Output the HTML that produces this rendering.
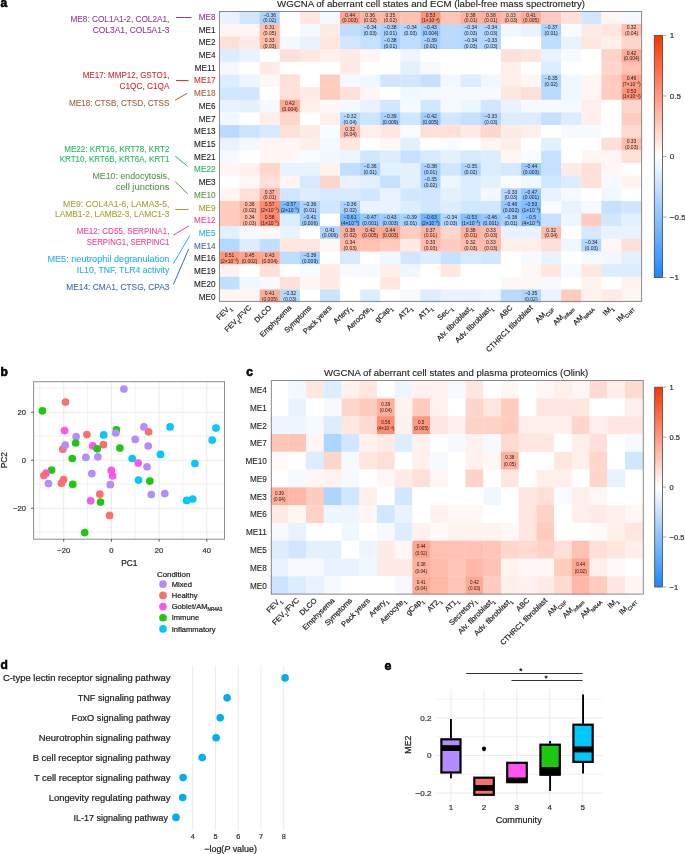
<!DOCTYPE html>
<html><head><meta charset="utf-8"><title>WGCNA figure</title>
<style>
html,body{margin:0;padding:0;background:#fff;}
body{width:685px;height:854px;overflow:hidden;}
svg{display:block;font-family:"Liberation Sans", sans-serif;will-change:transform;}
</style></head>
<body>
<svg width="685" height="854" viewBox="0 0 685 854">
<rect x="0" y="0" width="685" height="854" fill="#fff"/>
<text x="0.40" y="7.10" font-size="12" fill="#000" text-anchor="start" font-weight="bold" stroke="#000" stroke-width="0.6">a</text>
<text x="277.10" y="7.30" font-size="9" fill="#1a1a1a" text-anchor="start" textLength="308" lengthAdjust="spacingAndGlyphs"  stroke="#1a1a1a" stroke-width="0.1">WGCNA of aberrant cell states and ECM (label-free mass spectrometry)</text>
<rect x="219.45" y="11.25" width="20.40" height="12.95" fill="#e8f3ff"/>
<rect x="239.55" y="11.25" width="20.40" height="12.95" fill="#d1e7ff"/>
<rect x="259.65" y="11.25" width="20.40" height="12.95" fill="#acd4ff"/>
<rect x="279.76" y="11.25" width="20.40" height="12.95" fill="#ffffff"/>
<rect x="299.86" y="11.25" width="20.40" height="12.95" fill="#ffe7e0"/>
<rect x="319.96" y="11.25" width="20.40" height="12.95" fill="#f4f9ff"/>
<rect x="340.06" y="11.25" width="20.40" height="12.95" fill="#ffa58f"/>
<rect x="360.17" y="11.25" width="20.40" height="12.95" fill="#ffb6a3"/>
<rect x="380.27" y="11.25" width="20.40" height="12.95" fill="#ffb8a6"/>
<rect x="400.37" y="11.25" width="20.40" height="12.95" fill="#ffc2b2"/>
<rect x="420.47" y="11.25" width="20.40" height="12.95" fill="#ff9378"/>
<rect x="440.58" y="11.25" width="20.40" height="12.95" fill="#ffc6b8"/>
<rect x="460.68" y="11.25" width="20.40" height="12.95" fill="#ffb19e"/>
<rect x="480.78" y="11.25" width="20.40" height="12.95" fill="#ffb19e"/>
<rect x="500.88" y="11.25" width="20.40" height="12.95" fill="#ffbcab"/>
<rect x="520.99" y="11.25" width="20.40" height="12.95" fill="#ffab96"/>
<rect x="541.09" y="11.25" width="20.40" height="12.95" fill="#ffccbf"/>
<rect x="561.19" y="11.25" width="20.40" height="12.95" fill="#ffe0d9"/>
<rect x="581.29" y="11.25" width="20.40" height="12.95" fill="#d1e7ff"/>
<rect x="601.40" y="11.25" width="20.40" height="12.95" fill="#fff5f2"/>
<rect x="621.50" y="11.25" width="20.40" height="12.95" fill="#f4f9ff"/>
<rect x="219.45" y="23.90" width="20.40" height="12.95" fill="#fff5f2"/>
<rect x="239.55" y="23.90" width="20.40" height="12.95" fill="#fff5f2"/>
<rect x="259.65" y="23.90" width="20.40" height="12.95" fill="#ffc0b0"/>
<rect x="279.76" y="23.90" width="20.40" height="12.95" fill="#ffffff"/>
<rect x="299.86" y="23.90" width="20.40" height="12.95" fill="#f4f9ff"/>
<rect x="319.96" y="23.90" width="20.40" height="12.95" fill="#ffebe6"/>
<rect x="340.06" y="23.90" width="20.40" height="12.95" fill="#bfddff"/>
<rect x="360.17" y="23.90" width="20.40" height="12.95" fill="#b1d6ff"/>
<rect x="380.27" y="23.90" width="20.40" height="12.95" fill="#a8d1ff"/>
<rect x="400.37" y="23.90" width="20.40" height="12.95" fill="#b1d6ff"/>
<rect x="420.47" y="23.90" width="20.40" height="12.95" fill="#9ccbff"/>
<rect x="440.58" y="23.90" width="20.40" height="12.95" fill="#badbff"/>
<rect x="460.68" y="23.90" width="20.40" height="12.95" fill="#b1d6ff"/>
<rect x="480.78" y="23.90" width="20.40" height="12.95" fill="#b1d6ff"/>
<rect x="500.88" y="23.90" width="20.40" height="12.95" fill="#eff7ff"/>
<rect x="520.99" y="23.90" width="20.40" height="12.95" fill="#e8f3ff"/>
<rect x="541.09" y="23.90" width="20.40" height="12.95" fill="#aad3ff"/>
<rect x="561.19" y="23.90" width="20.40" height="12.95" fill="#f8fbff"/>
<rect x="581.29" y="23.90" width="20.40" height="12.95" fill="#ffebe6"/>
<rect x="601.40" y="23.90" width="20.40" height="12.95" fill="#ffe7e0"/>
<rect x="621.50" y="23.90" width="20.40" height="12.95" fill="#ffbead"/>
<rect x="219.45" y="36.55" width="20.40" height="12.95" fill="#ffe0d9"/>
<rect x="239.55" y="36.55" width="20.40" height="12.95" fill="#ffebe6"/>
<rect x="259.65" y="36.55" width="20.40" height="12.95" fill="#ffbcab"/>
<rect x="279.76" y="36.55" width="20.40" height="12.95" fill="#f4f9ff"/>
<rect x="299.86" y="36.55" width="20.40" height="12.95" fill="#e8f3ff"/>
<rect x="319.96" y="36.55" width="20.40" height="12.95" fill="#ffe7e0"/>
<rect x="340.06" y="36.55" width="20.40" height="12.95" fill="#d1e7ff"/>
<rect x="360.17" y="36.55" width="20.40" height="12.95" fill="#c6e1ff"/>
<rect x="380.27" y="36.55" width="20.40" height="12.95" fill="#a8d1ff"/>
<rect x="400.37" y="36.55" width="20.40" height="12.95" fill="#bfddff"/>
<rect x="420.47" y="36.55" width="20.40" height="12.95" fill="#a5d0ff"/>
<rect x="440.58" y="36.55" width="20.40" height="12.95" fill="#badbff"/>
<rect x="460.68" y="36.55" width="20.40" height="12.95" fill="#b1d6ff"/>
<rect x="480.78" y="36.55" width="20.40" height="12.95" fill="#b3d7ff"/>
<rect x="500.88" y="36.55" width="20.40" height="12.95" fill="#ffffff"/>
<rect x="520.99" y="36.55" width="20.40" height="12.95" fill="#ffffff"/>
<rect x="541.09" y="36.55" width="20.40" height="12.95" fill="#bfddff"/>
<rect x="561.19" y="36.55" width="20.40" height="12.95" fill="#e8f3ff"/>
<rect x="581.29" y="36.55" width="20.40" height="12.95" fill="#ffe7e0"/>
<rect x="601.40" y="36.55" width="20.40" height="12.95" fill="#ffefeb"/>
<rect x="621.50" y="36.55" width="20.40" height="12.95" fill="#ffd6cc"/>
<rect x="219.45" y="49.19" width="20.40" height="12.95" fill="#dcedff"/>
<rect x="239.55" y="49.19" width="20.40" height="12.95" fill="#e8f3ff"/>
<rect x="259.65" y="49.19" width="20.40" height="12.95" fill="#ffffff"/>
<rect x="279.76" y="49.19" width="20.40" height="12.95" fill="#ffe0d9"/>
<rect x="299.86" y="49.19" width="20.40" height="12.95" fill="#ffe7e0"/>
<rect x="319.96" y="49.19" width="20.40" height="12.95" fill="#ffefeb"/>
<rect x="340.06" y="49.19" width="20.40" height="12.95" fill="#ffebe6"/>
<rect x="360.17" y="49.19" width="20.40" height="12.95" fill="#fff5f2"/>
<rect x="380.27" y="49.19" width="20.40" height="12.95" fill="#ffffff"/>
<rect x="400.37" y="49.19" width="20.40" height="12.95" fill="#edf5ff"/>
<rect x="420.47" y="49.19" width="20.40" height="12.95" fill="#ffffff"/>
<rect x="440.58" y="49.19" width="20.40" height="12.95" fill="#ffffff"/>
<rect x="460.68" y="49.19" width="20.40" height="12.95" fill="#ffffff"/>
<rect x="480.78" y="49.19" width="20.40" height="12.95" fill="#ffffff"/>
<rect x="500.88" y="49.19" width="20.40" height="12.95" fill="#ffe0d9"/>
<rect x="520.99" y="49.19" width="20.40" height="12.95" fill="#ffe4de"/>
<rect x="541.09" y="49.19" width="20.40" height="12.95" fill="#e8f3ff"/>
<rect x="561.19" y="49.19" width="20.40" height="12.95" fill="#f6faff"/>
<rect x="581.29" y="49.19" width="20.40" height="12.95" fill="#ffffff"/>
<rect x="601.40" y="49.19" width="20.40" height="12.95" fill="#ffd2c7"/>
<rect x="621.50" y="49.19" width="20.40" height="12.95" fill="#ffa994"/>
<rect x="219.45" y="61.84" width="20.40" height="12.95" fill="#f4f9ff"/>
<rect x="239.55" y="61.84" width="20.40" height="12.95" fill="#ffffff"/>
<rect x="259.65" y="61.84" width="20.40" height="12.95" fill="#ffebe6"/>
<rect x="279.76" y="61.84" width="20.40" height="12.95" fill="#ffffff"/>
<rect x="299.86" y="61.84" width="20.40" height="12.95" fill="#ffffff"/>
<rect x="319.96" y="61.84" width="20.40" height="12.95" fill="#ffffff"/>
<rect x="340.06" y="61.84" width="20.40" height="12.95" fill="#ffebe6"/>
<rect x="360.17" y="61.84" width="20.40" height="12.95" fill="#ffffff"/>
<rect x="380.27" y="61.84" width="20.40" height="12.95" fill="#ffffff"/>
<rect x="400.37" y="61.84" width="20.40" height="12.95" fill="#e3f1ff"/>
<rect x="420.47" y="61.84" width="20.40" height="12.95" fill="#f6faff"/>
<rect x="440.58" y="61.84" width="20.40" height="12.95" fill="#ffffff"/>
<rect x="460.68" y="61.84" width="20.40" height="12.95" fill="#ffffff"/>
<rect x="480.78" y="61.84" width="20.40" height="12.95" fill="#ffffff"/>
<rect x="500.88" y="61.84" width="20.40" height="12.95" fill="#ffefeb"/>
<rect x="520.99" y="61.84" width="20.40" height="12.95" fill="#ffffff"/>
<rect x="541.09" y="61.84" width="20.40" height="12.95" fill="#dcedff"/>
<rect x="561.19" y="61.84" width="20.40" height="12.95" fill="#ffffff"/>
<rect x="581.29" y="61.84" width="20.40" height="12.95" fill="#ffffff"/>
<rect x="601.40" y="61.84" width="20.40" height="12.95" fill="#ffd6cc"/>
<rect x="621.50" y="61.84" width="20.40" height="12.95" fill="#ffc2b2"/>
<rect x="219.45" y="74.49" width="20.40" height="12.95" fill="#dcedff"/>
<rect x="239.55" y="74.49" width="20.40" height="12.95" fill="#edf5ff"/>
<rect x="259.65" y="74.49" width="20.40" height="12.95" fill="#fff7f5"/>
<rect x="279.76" y="74.49" width="20.40" height="12.95" fill="#ffe0d9"/>
<rect x="299.86" y="74.49" width="20.40" height="12.95" fill="#ffffff"/>
<rect x="319.96" y="74.49" width="20.40" height="12.95" fill="#ffccbf"/>
<rect x="340.06" y="74.49" width="20.40" height="12.95" fill="#f4f9ff"/>
<rect x="360.17" y="74.49" width="20.40" height="12.95" fill="#eff7ff"/>
<rect x="380.27" y="74.49" width="20.40" height="12.95" fill="#d1e7ff"/>
<rect x="400.37" y="74.49" width="20.40" height="12.95" fill="#d1e7ff"/>
<rect x="420.47" y="74.49" width="20.40" height="12.95" fill="#c6e1ff"/>
<rect x="440.58" y="74.49" width="20.40" height="12.95" fill="#f1f8ff"/>
<rect x="460.68" y="74.49" width="20.40" height="12.95" fill="#dcedff"/>
<rect x="480.78" y="74.49" width="20.40" height="12.95" fill="#eff7ff"/>
<rect x="500.88" y="74.49" width="20.40" height="12.95" fill="#ffefeb"/>
<rect x="520.99" y="74.49" width="20.40" height="12.95" fill="#fff5f2"/>
<rect x="541.09" y="74.49" width="20.40" height="12.95" fill="#aed5ff"/>
<rect x="561.19" y="74.49" width="20.40" height="12.95" fill="#eff7ff"/>
<rect x="581.29" y="74.49" width="20.40" height="12.95" fill="#fff5f2"/>
<rect x="601.40" y="74.49" width="20.40" height="12.95" fill="#ffccbf"/>
<rect x="621.50" y="74.49" width="20.40" height="12.95" fill="#ffa18a"/>
<rect x="219.45" y="87.14" width="20.40" height="12.95" fill="#d1e7ff"/>
<rect x="239.55" y="87.14" width="20.40" height="12.95" fill="#d1e7ff"/>
<rect x="259.65" y="87.14" width="20.40" height="12.95" fill="#ffffff"/>
<rect x="279.76" y="87.14" width="20.40" height="12.95" fill="#ffe0d9"/>
<rect x="299.86" y="87.14" width="20.40" height="12.95" fill="#ffebe6"/>
<rect x="319.96" y="87.14" width="20.40" height="12.95" fill="#ffccbf"/>
<rect x="340.06" y="87.14" width="20.40" height="12.95" fill="#ffe0d9"/>
<rect x="360.17" y="87.14" width="20.40" height="12.95" fill="#fff5f2"/>
<rect x="380.27" y="87.14" width="20.40" height="12.95" fill="#ffffff"/>
<rect x="400.37" y="87.14" width="20.40" height="12.95" fill="#eff7ff"/>
<rect x="420.47" y="87.14" width="20.40" height="12.95" fill="#f4f9ff"/>
<rect x="440.58" y="87.14" width="20.40" height="12.95" fill="#f6faff"/>
<rect x="460.68" y="87.14" width="20.40" height="12.95" fill="#f6faff"/>
<rect x="480.78" y="87.14" width="20.40" height="12.95" fill="#f6faff"/>
<rect x="500.88" y="87.14" width="20.40" height="12.95" fill="#ffe7e0"/>
<rect x="520.99" y="87.14" width="20.40" height="12.95" fill="#ffe0d9"/>
<rect x="541.09" y="87.14" width="20.40" height="12.95" fill="#badbff"/>
<rect x="561.19" y="87.14" width="20.40" height="12.95" fill="#eff7ff"/>
<rect x="581.29" y="87.14" width="20.40" height="12.95" fill="#fff5f2"/>
<rect x="601.40" y="87.14" width="20.40" height="12.95" fill="#ffccbf"/>
<rect x="621.50" y="87.14" width="20.40" height="12.95" fill="#ff9378"/>
<rect x="219.45" y="99.78" width="20.40" height="12.95" fill="#e8f3ff"/>
<rect x="239.55" y="99.78" width="20.40" height="12.95" fill="#e3f1ff"/>
<rect x="259.65" y="99.78" width="20.40" height="12.95" fill="#f4f9ff"/>
<rect x="279.76" y="99.78" width="20.40" height="12.95" fill="#ffa994"/>
<rect x="299.86" y="99.78" width="20.40" height="12.95" fill="#ffefeb"/>
<rect x="319.96" y="99.78" width="20.40" height="12.95" fill="#fff9f7"/>
<rect x="340.06" y="99.78" width="20.40" height="12.95" fill="#f4f9ff"/>
<rect x="360.17" y="99.78" width="20.40" height="12.95" fill="#e8f3ff"/>
<rect x="380.27" y="99.78" width="20.40" height="12.95" fill="#d1e7ff"/>
<rect x="400.37" y="99.78" width="20.40" height="12.95" fill="#f6faff"/>
<rect x="420.47" y="99.78" width="20.40" height="12.95" fill="#d1e7ff"/>
<rect x="440.58" y="99.78" width="20.40" height="12.95" fill="#f6faff"/>
<rect x="460.68" y="99.78" width="20.40" height="12.95" fill="#edf5ff"/>
<rect x="480.78" y="99.78" width="20.40" height="12.95" fill="#d1e7ff"/>
<rect x="500.88" y="99.78" width="20.40" height="12.95" fill="#e8f3ff"/>
<rect x="520.99" y="99.78" width="20.40" height="12.95" fill="#f6faff"/>
<rect x="541.09" y="99.78" width="20.40" height="12.95" fill="#f6faff"/>
<rect x="561.19" y="99.78" width="20.40" height="12.95" fill="#f6faff"/>
<rect x="581.29" y="99.78" width="20.40" height="12.95" fill="#ffefeb"/>
<rect x="601.40" y="99.78" width="20.40" height="12.95" fill="#ffffff"/>
<rect x="621.50" y="99.78" width="20.40" height="12.95" fill="#ffd6cc"/>
<rect x="219.45" y="112.43" width="20.40" height="12.95" fill="#f1f8ff"/>
<rect x="239.55" y="112.43" width="20.40" height="12.95" fill="#ffffff"/>
<rect x="259.65" y="112.43" width="20.40" height="12.95" fill="#ffefeb"/>
<rect x="279.76" y="112.43" width="20.40" height="12.95" fill="#ffd6cc"/>
<rect x="299.86" y="112.43" width="20.40" height="12.95" fill="#ffffff"/>
<rect x="319.96" y="112.43" width="20.40" height="12.95" fill="#ffefeb"/>
<rect x="340.06" y="112.43" width="20.40" height="12.95" fill="#b5d9ff"/>
<rect x="360.17" y="112.43" width="20.40" height="12.95" fill="#cce5ff"/>
<rect x="380.27" y="112.43" width="20.40" height="12.95" fill="#a5d0ff"/>
<rect x="400.37" y="112.43" width="20.40" height="12.95" fill="#d1e7ff"/>
<rect x="420.47" y="112.43" width="20.40" height="12.95" fill="#9ecdff"/>
<rect x="440.58" y="112.43" width="20.40" height="12.95" fill="#d1e7ff"/>
<rect x="460.68" y="112.43" width="20.40" height="12.95" fill="#c6e1ff"/>
<rect x="480.78" y="112.43" width="20.40" height="12.95" fill="#b3d7ff"/>
<rect x="500.88" y="112.43" width="20.40" height="12.95" fill="#dcedff"/>
<rect x="520.99" y="112.43" width="20.40" height="12.95" fill="#dcedff"/>
<rect x="541.09" y="112.43" width="20.40" height="12.95" fill="#c6e1ff"/>
<rect x="561.19" y="112.43" width="20.40" height="12.95" fill="#dcedff"/>
<rect x="581.29" y="112.43" width="20.40" height="12.95" fill="#ffefeb"/>
<rect x="601.40" y="112.43" width="20.40" height="12.95" fill="#ffffff"/>
<rect x="621.50" y="112.43" width="20.40" height="12.95" fill="#ffccbf"/>
<rect x="219.45" y="125.08" width="20.40" height="12.95" fill="#badbff"/>
<rect x="239.55" y="125.08" width="20.40" height="12.95" fill="#cce5ff"/>
<rect x="259.65" y="125.08" width="20.40" height="12.95" fill="#d6e9ff"/>
<rect x="279.76" y="125.08" width="20.40" height="12.95" fill="#ffe0d9"/>
<rect x="299.86" y="125.08" width="20.40" height="12.95" fill="#ffebe6"/>
<rect x="319.96" y="125.08" width="20.40" height="12.95" fill="#f8fbff"/>
<rect x="340.06" y="125.08" width="20.40" height="12.95" fill="#ffbead"/>
<rect x="360.17" y="125.08" width="20.40" height="12.95" fill="#ffefeb"/>
<rect x="380.27" y="125.08" width="20.40" height="12.95" fill="#ffe7e0"/>
<rect x="400.37" y="125.08" width="20.40" height="12.95" fill="#f8fbff"/>
<rect x="420.47" y="125.08" width="20.40" height="12.95" fill="#ffe0d9"/>
<rect x="440.58" y="125.08" width="20.40" height="12.95" fill="#ffe0d9"/>
<rect x="460.68" y="125.08" width="20.40" height="12.95" fill="#ffebe6"/>
<rect x="480.78" y="125.08" width="20.40" height="12.95" fill="#ffd6cc"/>
<rect x="500.88" y="125.08" width="20.40" height="12.95" fill="#ffebe6"/>
<rect x="520.99" y="125.08" width="20.40" height="12.95" fill="#ffefeb"/>
<rect x="541.09" y="125.08" width="20.40" height="12.95" fill="#ffffff"/>
<rect x="561.19" y="125.08" width="20.40" height="12.95" fill="#f6faff"/>
<rect x="581.29" y="125.08" width="20.40" height="12.95" fill="#f6faff"/>
<rect x="601.40" y="125.08" width="20.40" height="12.95" fill="#ffffff"/>
<rect x="621.50" y="125.08" width="20.40" height="12.95" fill="#ffdad1"/>
<rect x="219.45" y="137.73" width="20.40" height="12.95" fill="#e8f3ff"/>
<rect x="239.55" y="137.73" width="20.40" height="12.95" fill="#f1f8ff"/>
<rect x="259.65" y="137.73" width="20.40" height="12.95" fill="#fff5f2"/>
<rect x="279.76" y="137.73" width="20.40" height="12.95" fill="#fff5f2"/>
<rect x="299.86" y="137.73" width="20.40" height="12.95" fill="#ffefeb"/>
<rect x="319.96" y="137.73" width="20.40" height="12.95" fill="#f4f9ff"/>
<rect x="340.06" y="137.73" width="20.40" height="12.95" fill="#ffe7e0"/>
<rect x="360.17" y="137.73" width="20.40" height="12.95" fill="#ffffff"/>
<rect x="380.27" y="137.73" width="20.40" height="12.95" fill="#fff7f5"/>
<rect x="400.37" y="137.73" width="20.40" height="12.95" fill="#e3f1ff"/>
<rect x="420.47" y="137.73" width="20.40" height="12.95" fill="#ffffff"/>
<rect x="440.58" y="137.73" width="20.40" height="12.95" fill="#f8fbff"/>
<rect x="460.68" y="137.73" width="20.40" height="12.95" fill="#ffffff"/>
<rect x="480.78" y="137.73" width="20.40" height="12.95" fill="#fff5f2"/>
<rect x="500.88" y="137.73" width="20.40" height="12.95" fill="#ffefeb"/>
<rect x="520.99" y="137.73" width="20.40" height="12.95" fill="#ffffff"/>
<rect x="541.09" y="137.73" width="20.40" height="12.95" fill="#e3f1ff"/>
<rect x="561.19" y="137.73" width="20.40" height="12.95" fill="#ffffff"/>
<rect x="581.29" y="137.73" width="20.40" height="12.95" fill="#ffffff"/>
<rect x="601.40" y="137.73" width="20.40" height="12.95" fill="#ffe0d9"/>
<rect x="621.50" y="137.73" width="20.40" height="12.95" fill="#ffbcab"/>
<rect x="219.45" y="150.38" width="20.40" height="12.95" fill="#f6faff"/>
<rect x="239.55" y="150.38" width="20.40" height="12.95" fill="#ffffff"/>
<rect x="259.65" y="150.38" width="20.40" height="12.95" fill="#fff7f5"/>
<rect x="279.76" y="150.38" width="20.40" height="12.95" fill="#fff7f5"/>
<rect x="299.86" y="150.38" width="20.40" height="12.95" fill="#f8fbff"/>
<rect x="319.96" y="150.38" width="20.40" height="12.95" fill="#f1f8ff"/>
<rect x="340.06" y="150.38" width="20.40" height="12.95" fill="#edf5ff"/>
<rect x="360.17" y="150.38" width="20.40" height="12.95" fill="#d1e7ff"/>
<rect x="380.27" y="150.38" width="20.40" height="12.95" fill="#dcedff"/>
<rect x="400.37" y="150.38" width="20.40" height="12.95" fill="#c6e1ff"/>
<rect x="420.47" y="150.38" width="20.40" height="12.95" fill="#d6e9ff"/>
<rect x="440.58" y="150.38" width="20.40" height="12.95" fill="#e3f1ff"/>
<rect x="460.68" y="150.38" width="20.40" height="12.95" fill="#d6e9ff"/>
<rect x="480.78" y="150.38" width="20.40" height="12.95" fill="#dcedff"/>
<rect x="500.88" y="150.38" width="20.40" height="12.95" fill="#fff5f2"/>
<rect x="520.99" y="150.38" width="20.40" height="12.95" fill="#f8fbff"/>
<rect x="541.09" y="150.38" width="20.40" height="12.95" fill="#c6e1ff"/>
<rect x="561.19" y="150.38" width="20.40" height="12.95" fill="#ffffff"/>
<rect x="581.29" y="150.38" width="20.40" height="12.95" fill="#fff5f2"/>
<rect x="601.40" y="150.38" width="20.40" height="12.95" fill="#fff5f2"/>
<rect x="621.50" y="150.38" width="20.40" height="12.95" fill="#ffe0d9"/>
<rect x="219.45" y="163.02" width="20.40" height="12.95" fill="#fff5f2"/>
<rect x="239.55" y="163.02" width="20.40" height="12.95" fill="#fff1ed"/>
<rect x="259.65" y="163.02" width="20.40" height="12.95" fill="#ffd6cc"/>
<rect x="279.76" y="163.02" width="20.40" height="12.95" fill="#e8f3ff"/>
<rect x="299.86" y="163.02" width="20.40" height="12.95" fill="#e8f3ff"/>
<rect x="319.96" y="163.02" width="20.40" height="12.95" fill="#fff3f0"/>
<rect x="340.06" y="163.02" width="20.40" height="12.95" fill="#c1dfff"/>
<rect x="360.17" y="163.02" width="20.40" height="12.95" fill="#acd4ff"/>
<rect x="380.27" y="163.02" width="20.40" height="12.95" fill="#e3f1ff"/>
<rect x="400.37" y="163.02" width="20.40" height="12.95" fill="#e3f1ff"/>
<rect x="420.47" y="163.02" width="20.40" height="12.95" fill="#a8d1ff"/>
<rect x="440.58" y="163.02" width="20.40" height="12.95" fill="#d1e7ff"/>
<rect x="460.68" y="163.02" width="20.40" height="12.95" fill="#aed5ff"/>
<rect x="480.78" y="163.02" width="20.40" height="12.95" fill="#dcedff"/>
<rect x="500.88" y="163.02" width="20.40" height="12.95" fill="#d6e9ff"/>
<rect x="520.99" y="163.02" width="20.40" height="12.95" fill="#9acaff"/>
<rect x="541.09" y="163.02" width="20.40" height="12.95" fill="#c6e1ff"/>
<rect x="561.19" y="163.02" width="20.40" height="12.95" fill="#ffebe6"/>
<rect x="581.29" y="163.02" width="20.40" height="12.95" fill="#ffe0d9"/>
<rect x="601.40" y="163.02" width="20.40" height="12.95" fill="#fff7f5"/>
<rect x="621.50" y="163.02" width="20.40" height="12.95" fill="#ffffff"/>
<rect x="219.45" y="175.67" width="20.40" height="12.95" fill="#ffffff"/>
<rect x="239.55" y="175.67" width="20.40" height="12.95" fill="#fff7f5"/>
<rect x="259.65" y="175.67" width="20.40" height="12.95" fill="#ffe0d9"/>
<rect x="279.76" y="175.67" width="20.40" height="12.95" fill="#fff5f2"/>
<rect x="299.86" y="175.67" width="20.40" height="12.95" fill="#d6e9ff"/>
<rect x="319.96" y="175.67" width="20.40" height="12.95" fill="#ffd6cc"/>
<rect x="340.06" y="175.67" width="20.40" height="12.95" fill="#e8f3ff"/>
<rect x="360.17" y="175.67" width="20.40" height="12.95" fill="#e3f1ff"/>
<rect x="380.27" y="175.67" width="20.40" height="12.95" fill="#c6e1ff"/>
<rect x="400.37" y="175.67" width="20.40" height="12.95" fill="#e3f1ff"/>
<rect x="420.47" y="175.67" width="20.40" height="12.95" fill="#aed5ff"/>
<rect x="440.58" y="175.67" width="20.40" height="12.95" fill="#edf5ff"/>
<rect x="460.68" y="175.67" width="20.40" height="12.95" fill="#dcedff"/>
<rect x="480.78" y="175.67" width="20.40" height="12.95" fill="#e3f1ff"/>
<rect x="500.88" y="175.67" width="20.40" height="12.95" fill="#f8fbff"/>
<rect x="520.99" y="175.67" width="20.40" height="12.95" fill="#eff7ff"/>
<rect x="541.09" y="175.67" width="20.40" height="12.95" fill="#d1e7ff"/>
<rect x="561.19" y="175.67" width="20.40" height="12.95" fill="#dcedff"/>
<rect x="581.29" y="175.67" width="20.40" height="12.95" fill="#ffe0d9"/>
<rect x="601.40" y="175.67" width="20.40" height="12.95" fill="#f6faff"/>
<rect x="621.50" y="175.67" width="20.40" height="12.95" fill="#fff3f0"/>
<rect x="219.45" y="188.32" width="20.40" height="12.95" fill="#fff5f2"/>
<rect x="239.55" y="188.32" width="20.40" height="12.95" fill="#ffe0d9"/>
<rect x="259.65" y="188.32" width="20.40" height="12.95" fill="#ffb4a1"/>
<rect x="279.76" y="188.32" width="20.40" height="12.95" fill="#d1e7ff"/>
<rect x="299.86" y="188.32" width="20.40" height="12.95" fill="#dcedff"/>
<rect x="319.96" y="188.32" width="20.40" height="12.95" fill="#d6e9ff"/>
<rect x="340.06" y="188.32" width="20.40" height="12.95" fill="#d6e9ff"/>
<rect x="360.17" y="188.32" width="20.40" height="12.95" fill="#d1e7ff"/>
<rect x="380.27" y="188.32" width="20.40" height="12.95" fill="#e8f3ff"/>
<rect x="400.37" y="188.32" width="20.40" height="12.95" fill="#d1e7ff"/>
<rect x="420.47" y="188.32" width="20.40" height="12.95" fill="#d1e7ff"/>
<rect x="440.58" y="188.32" width="20.40" height="12.95" fill="#e3f1ff"/>
<rect x="460.68" y="188.32" width="20.40" height="12.95" fill="#dcedff"/>
<rect x="480.78" y="188.32" width="20.40" height="12.95" fill="#f1f8ff"/>
<rect x="500.88" y="188.32" width="20.40" height="12.95" fill="#b3d7ff"/>
<rect x="520.99" y="188.32" width="20.40" height="12.95" fill="#93c7ff"/>
<rect x="541.09" y="188.32" width="20.40" height="12.95" fill="#e8f3ff"/>
<rect x="561.19" y="188.32" width="20.40" height="12.95" fill="#f6faff"/>
<rect x="581.29" y="188.32" width="20.40" height="12.95" fill="#ffffff"/>
<rect x="601.40" y="188.32" width="20.40" height="12.95" fill="#eff7ff"/>
<rect x="621.50" y="188.32" width="20.40" height="12.95" fill="#ffffff"/>
<rect x="219.45" y="200.97" width="20.40" height="12.95" fill="#ffccbf"/>
<rect x="239.55" y="200.97" width="20.40" height="12.95" fill="#ffb6a3"/>
<rect x="259.65" y="200.97" width="20.40" height="12.95" fill="#ff8b6e"/>
<rect x="279.76" y="200.97" width="20.40" height="12.95" fill="#7cbbff"/>
<rect x="299.86" y="200.97" width="20.40" height="12.95" fill="#acd4ff"/>
<rect x="319.96" y="200.97" width="20.40" height="12.95" fill="#d1e7ff"/>
<rect x="340.06" y="200.97" width="20.40" height="12.95" fill="#acd4ff"/>
<rect x="360.17" y="200.97" width="20.40" height="12.95" fill="#e8f3ff"/>
<rect x="380.27" y="200.97" width="20.40" height="12.95" fill="#e8f3ff"/>
<rect x="400.37" y="200.97" width="20.40" height="12.95" fill="#dcedff"/>
<rect x="420.47" y="200.97" width="20.40" height="12.95" fill="#d1e7ff"/>
<rect x="440.58" y="200.97" width="20.40" height="12.95" fill="#dcedff"/>
<rect x="460.68" y="200.97" width="20.40" height="12.95" fill="#d1e7ff"/>
<rect x="480.78" y="200.97" width="20.40" height="12.95" fill="#d1e7ff"/>
<rect x="500.88" y="200.97" width="20.40" height="12.95" fill="#95c8ff"/>
<rect x="520.99" y="200.97" width="20.40" height="12.95" fill="#85bfff"/>
<rect x="541.09" y="200.97" width="20.40" height="12.95" fill="#f8fbff"/>
<rect x="561.19" y="200.97" width="20.40" height="12.95" fill="#e8f3ff"/>
<rect x="581.29" y="200.97" width="20.40" height="12.95" fill="#f6faff"/>
<rect x="601.40" y="200.97" width="20.40" height="12.95" fill="#c6e1ff"/>
<rect x="621.50" y="200.97" width="20.40" height="12.95" fill="#d1e7ff"/>
<rect x="219.45" y="213.62" width="20.40" height="12.95" fill="#ffccbf"/>
<rect x="239.55" y="213.62" width="20.40" height="12.95" fill="#ffbaa8"/>
<rect x="259.65" y="213.62" width="20.40" height="12.95" fill="#ff896b"/>
<rect x="279.76" y="213.62" width="20.40" height="12.95" fill="#dcedff"/>
<rect x="299.86" y="213.62" width="20.40" height="12.95" fill="#a1ceff"/>
<rect x="319.96" y="213.62" width="20.40" height="12.95" fill="#ffffff"/>
<rect x="340.06" y="213.62" width="20.40" height="12.95" fill="#73b6ff"/>
<rect x="360.17" y="213.62" width="20.40" height="12.95" fill="#93c7ff"/>
<rect x="380.27" y="213.62" width="20.40" height="12.95" fill="#9ccbff"/>
<rect x="400.37" y="213.62" width="20.40" height="12.95" fill="#a5d0ff"/>
<rect x="420.47" y="213.62" width="20.40" height="12.95" fill="#6eb3ff"/>
<rect x="440.58" y="213.62" width="20.40" height="12.95" fill="#b1d6ff"/>
<rect x="460.68" y="213.62" width="20.40" height="12.95" fill="#85bfff"/>
<rect x="480.78" y="213.62" width="20.40" height="12.95" fill="#95c8ff"/>
<rect x="500.88" y="213.62" width="20.40" height="12.95" fill="#a8d1ff"/>
<rect x="520.99" y="213.62" width="20.40" height="12.95" fill="#8cc3ff"/>
<rect x="541.09" y="213.62" width="20.40" height="12.95" fill="#c6e1ff"/>
<rect x="561.19" y="213.62" width="20.40" height="12.95" fill="#edf5ff"/>
<rect x="581.29" y="213.62" width="20.40" height="12.95" fill="#ffccbf"/>
<rect x="601.40" y="213.62" width="20.40" height="12.95" fill="#d1e7ff"/>
<rect x="621.50" y="213.62" width="20.40" height="12.95" fill="#e3f1ff"/>
<rect x="219.45" y="226.26" width="20.40" height="12.95" fill="#e1efff"/>
<rect x="239.55" y="226.26" width="20.40" height="12.95" fill="#f6faff"/>
<rect x="259.65" y="226.26" width="20.40" height="12.95" fill="#fff7f5"/>
<rect x="279.76" y="226.26" width="20.40" height="12.95" fill="#e8f3ff"/>
<rect x="299.86" y="226.26" width="20.40" height="12.95" fill="#ffffff"/>
<rect x="319.96" y="226.26" width="20.40" height="12.95" fill="#aed5ff"/>
<rect x="340.06" y="226.26" width="20.40" height="12.95" fill="#ffb19e"/>
<rect x="360.17" y="226.26" width="20.40" height="12.95" fill="#ffa994"/>
<rect x="380.27" y="226.26" width="20.40" height="12.95" fill="#ffa58f"/>
<rect x="400.37" y="226.26" width="20.40" height="12.95" fill="#ffccbf"/>
<rect x="420.47" y="226.26" width="20.40" height="12.95" fill="#ffb4a1"/>
<rect x="440.58" y="226.26" width="20.40" height="12.95" fill="#ffd6cc"/>
<rect x="460.68" y="226.26" width="20.40" height="12.95" fill="#ffb19e"/>
<rect x="480.78" y="226.26" width="20.40" height="12.95" fill="#ffbcab"/>
<rect x="500.88" y="226.26" width="20.40" height="12.95" fill="#e8f3ff"/>
<rect x="520.99" y="226.26" width="20.40" height="12.95" fill="#e8f3ff"/>
<rect x="541.09" y="226.26" width="20.40" height="12.95" fill="#ffbead"/>
<rect x="561.19" y="226.26" width="20.40" height="12.95" fill="#ffffff"/>
<rect x="581.29" y="226.26" width="20.40" height="12.95" fill="#d6e9ff"/>
<rect x="601.40" y="226.26" width="20.40" height="12.95" fill="#e8f3ff"/>
<rect x="621.50" y="226.26" width="20.40" height="12.95" fill="#e8f3ff"/>
<rect x="219.45" y="238.91" width="20.40" height="12.95" fill="#b5d9ff"/>
<rect x="239.55" y="238.91" width="20.40" height="12.95" fill="#dcedff"/>
<rect x="259.65" y="238.91" width="20.40" height="12.95" fill="#c1dfff"/>
<rect x="279.76" y="238.91" width="20.40" height="12.95" fill="#ffe7e0"/>
<rect x="299.86" y="238.91" width="20.40" height="12.95" fill="#ffe7e0"/>
<rect x="319.96" y="238.91" width="20.40" height="12.95" fill="#fff7f5"/>
<rect x="340.06" y="238.91" width="20.40" height="12.95" fill="#ffbaa8"/>
<rect x="360.17" y="238.91" width="20.40" height="12.95" fill="#ffc2b2"/>
<rect x="380.27" y="238.91" width="20.40" height="12.95" fill="#ffccbf"/>
<rect x="400.37" y="238.91" width="20.40" height="12.95" fill="#ffebe6"/>
<rect x="420.47" y="238.91" width="20.40" height="12.95" fill="#ffbcab"/>
<rect x="440.58" y="238.91" width="20.40" height="12.95" fill="#ffccbf"/>
<rect x="460.68" y="238.91" width="20.40" height="12.95" fill="#ffbead"/>
<rect x="480.78" y="238.91" width="20.40" height="12.95" fill="#ffbcab"/>
<rect x="500.88" y="238.91" width="20.40" height="12.95" fill="#ffefeb"/>
<rect x="520.99" y="238.91" width="20.40" height="12.95" fill="#ffefeb"/>
<rect x="541.09" y="238.91" width="20.40" height="12.95" fill="#ffe0d9"/>
<rect x="561.19" y="238.91" width="20.40" height="12.95" fill="#eff7ff"/>
<rect x="581.29" y="238.91" width="20.40" height="12.95" fill="#b1d6ff"/>
<rect x="601.40" y="238.91" width="20.40" height="12.95" fill="#fff7f5"/>
<rect x="621.50" y="238.91" width="20.40" height="12.95" fill="#ffe0d9"/>
<rect x="219.45" y="251.56" width="20.40" height="12.95" fill="#ff977d"/>
<rect x="239.55" y="251.56" width="20.40" height="12.95" fill="#ffa38c"/>
<rect x="259.65" y="251.56" width="20.40" height="12.95" fill="#ffa791"/>
<rect x="279.76" y="251.56" width="20.40" height="12.95" fill="#bfddff"/>
<rect x="299.86" y="251.56" width="20.40" height="12.95" fill="#a5d0ff"/>
<rect x="319.96" y="251.56" width="20.40" height="12.95" fill="#ffffff"/>
<rect x="340.06" y="251.56" width="20.40" height="12.95" fill="#d6e9ff"/>
<rect x="360.17" y="251.56" width="20.40" height="12.95" fill="#ffffff"/>
<rect x="380.27" y="251.56" width="20.40" height="12.95" fill="#eff7ff"/>
<rect x="400.37" y="251.56" width="20.40" height="12.95" fill="#d1e7ff"/>
<rect x="420.47" y="251.56" width="20.40" height="12.95" fill="#dcedff"/>
<rect x="440.58" y="251.56" width="20.40" height="12.95" fill="#c6e1ff"/>
<rect x="460.68" y="251.56" width="20.40" height="12.95" fill="#d6e9ff"/>
<rect x="480.78" y="251.56" width="20.40" height="12.95" fill="#d1e7ff"/>
<rect x="500.88" y="251.56" width="20.40" height="12.95" fill="#ffffff"/>
<rect x="520.99" y="251.56" width="20.40" height="12.95" fill="#f6faff"/>
<rect x="541.09" y="251.56" width="20.40" height="12.95" fill="#e8f3ff"/>
<rect x="561.19" y="251.56" width="20.40" height="12.95" fill="#ffffff"/>
<rect x="581.29" y="251.56" width="20.40" height="12.95" fill="#f6faff"/>
<rect x="601.40" y="251.56" width="20.40" height="12.95" fill="#f1f8ff"/>
<rect x="621.50" y="251.56" width="20.40" height="12.95" fill="#e3f1ff"/>
<rect x="219.45" y="264.21" width="20.40" height="12.95" fill="#fff3f0"/>
<rect x="239.55" y="264.21" width="20.40" height="12.95" fill="#ffffff"/>
<rect x="259.65" y="264.21" width="20.40" height="12.95" fill="#ffe0d9"/>
<rect x="279.76" y="264.21" width="20.40" height="12.95" fill="#ffffff"/>
<rect x="299.86" y="264.21" width="20.40" height="12.95" fill="#f8fbff"/>
<rect x="319.96" y="264.21" width="20.40" height="12.95" fill="#ffebe6"/>
<rect x="340.06" y="264.21" width="20.40" height="12.95" fill="#f6faff"/>
<rect x="360.17" y="264.21" width="20.40" height="12.95" fill="#f6faff"/>
<rect x="380.27" y="264.21" width="20.40" height="12.95" fill="#ffefeb"/>
<rect x="400.37" y="264.21" width="20.40" height="12.95" fill="#eff7ff"/>
<rect x="420.47" y="264.21" width="20.40" height="12.95" fill="#ffffff"/>
<rect x="440.58" y="264.21" width="20.40" height="12.95" fill="#ffe7e0"/>
<rect x="460.68" y="264.21" width="20.40" height="12.95" fill="#ffffff"/>
<rect x="480.78" y="264.21" width="20.40" height="12.95" fill="#ffffff"/>
<rect x="500.88" y="264.21" width="20.40" height="12.95" fill="#ffffff"/>
<rect x="520.99" y="264.21" width="20.40" height="12.95" fill="#fff7f5"/>
<rect x="541.09" y="264.21" width="20.40" height="12.95" fill="#ffe7e0"/>
<rect x="561.19" y="264.21" width="20.40" height="12.95" fill="#f6faff"/>
<rect x="581.29" y="264.21" width="20.40" height="12.95" fill="#ffe7e0"/>
<rect x="601.40" y="264.21" width="20.40" height="12.95" fill="#dcedff"/>
<rect x="621.50" y="264.21" width="20.40" height="12.95" fill="#dcedff"/>
<rect x="219.45" y="276.85" width="20.40" height="12.95" fill="#c1dfff"/>
<rect x="239.55" y="276.85" width="20.40" height="12.95" fill="#eff7ff"/>
<rect x="259.65" y="276.85" width="20.40" height="12.95" fill="#f6faff"/>
<rect x="279.76" y="276.85" width="20.40" height="12.95" fill="#ffe0d9"/>
<rect x="299.86" y="276.85" width="20.40" height="12.95" fill="#fff5f2"/>
<rect x="319.96" y="276.85" width="20.40" height="12.95" fill="#ffebe6"/>
<rect x="340.06" y="276.85" width="20.40" height="12.95" fill="#ffffff"/>
<rect x="360.17" y="276.85" width="20.40" height="12.95" fill="#ffffff"/>
<rect x="380.27" y="276.85" width="20.40" height="12.95" fill="#ffe7e0"/>
<rect x="400.37" y="276.85" width="20.40" height="12.95" fill="#ffffff"/>
<rect x="420.47" y="276.85" width="20.40" height="12.95" fill="#ffffff"/>
<rect x="440.58" y="276.85" width="20.40" height="12.95" fill="#ffffff"/>
<rect x="460.68" y="276.85" width="20.40" height="12.95" fill="#ffffff"/>
<rect x="480.78" y="276.85" width="20.40" height="12.95" fill="#ffffff"/>
<rect x="500.88" y="276.85" width="20.40" height="12.95" fill="#fff7f5"/>
<rect x="520.99" y="276.85" width="20.40" height="12.95" fill="#fff7f5"/>
<rect x="541.09" y="276.85" width="20.40" height="12.95" fill="#f6faff"/>
<rect x="561.19" y="276.85" width="20.40" height="12.95" fill="#ffffff"/>
<rect x="581.29" y="276.85" width="20.40" height="12.95" fill="#fff3f0"/>
<rect x="601.40" y="276.85" width="20.40" height="12.95" fill="#ffffff"/>
<rect x="621.50" y="276.85" width="20.40" height="12.95" fill="#fff3f0"/>
<rect x="219.45" y="289.50" width="20.40" height="12.95" fill="#fff5f2"/>
<rect x="239.55" y="289.50" width="20.40" height="12.95" fill="#fff5f2"/>
<rect x="259.65" y="289.50" width="20.40" height="12.95" fill="#ffab96"/>
<rect x="279.76" y="289.50" width="20.40" height="12.95" fill="#b5d9ff"/>
<rect x="299.86" y="289.50" width="20.40" height="12.95" fill="#ffffff"/>
<rect x="319.96" y="289.50" width="20.40" height="12.95" fill="#cce5ff"/>
<rect x="340.06" y="289.50" width="20.40" height="12.95" fill="#ffffff"/>
<rect x="360.17" y="289.50" width="20.40" height="12.95" fill="#dcedff"/>
<rect x="380.27" y="289.50" width="20.40" height="12.95" fill="#ffffff"/>
<rect x="400.37" y="289.50" width="20.40" height="12.95" fill="#f6faff"/>
<rect x="420.47" y="289.50" width="20.40" height="12.95" fill="#dcedff"/>
<rect x="440.58" y="289.50" width="20.40" height="12.95" fill="#e8f3ff"/>
<rect x="460.68" y="289.50" width="20.40" height="12.95" fill="#e8f3ff"/>
<rect x="480.78" y="289.50" width="20.40" height="12.95" fill="#edf5ff"/>
<rect x="500.88" y="289.50" width="20.40" height="12.95" fill="#badbff"/>
<rect x="520.99" y="289.50" width="20.40" height="12.95" fill="#aed5ff"/>
<rect x="541.09" y="289.50" width="20.40" height="12.95" fill="#e8f3ff"/>
<rect x="561.19" y="289.50" width="20.40" height="12.95" fill="#ffccbf"/>
<rect x="581.29" y="289.50" width="20.40" height="12.95" fill="#fff1ed"/>
<rect x="601.40" y="289.50" width="20.40" height="12.95" fill="#ffebe6"/>
<rect x="621.50" y="289.50" width="20.40" height="12.95" fill="#fff5f2"/>
<text x="269.71" y="16.67" font-size="5.0" fill="#1a1a1a" text-anchor="middle">−0.36</text>
<text x="269.71" y="22.37" font-size="5.0" fill="#1a1a1a" text-anchor="middle">(0.02)</text>
<text x="350.12" y="16.67" font-size="5.0" fill="#1a1a1a" text-anchor="middle">0.44</text>
<text x="350.12" y="22.37" font-size="5.0" fill="#1a1a1a" text-anchor="middle">(0.003)</text>
<text x="370.22" y="16.67" font-size="5.0" fill="#1a1a1a" text-anchor="middle">0.36</text>
<text x="370.22" y="22.37" font-size="5.0" fill="#1a1a1a" text-anchor="middle">(0.02)</text>
<text x="390.32" y="16.67" font-size="5.0" fill="#1a1a1a" text-anchor="middle">0.35</text>
<text x="390.32" y="22.37" font-size="5.0" fill="#1a1a1a" text-anchor="middle">(0.02)</text>
<text x="430.52" y="16.67" font-size="5.0" fill="#1a1a1a" text-anchor="middle">0.53</text>
<text x="430.52" y="22.37" font-size="5.0" fill="#1a1a1a" text-anchor="middle">(1×10<tspan font-size="3.2" dy="-1.6">−4</tspan><tspan dy="1.6">)</tspan></text>
<text x="470.73" y="16.67" font-size="5.0" fill="#1a1a1a" text-anchor="middle">0.38</text>
<text x="470.73" y="22.37" font-size="5.0" fill="#1a1a1a" text-anchor="middle">(0.01)</text>
<text x="490.83" y="16.67" font-size="5.0" fill="#1a1a1a" text-anchor="middle">0.38</text>
<text x="490.83" y="22.37" font-size="5.0" fill="#1a1a1a" text-anchor="middle">(0.01)</text>
<text x="510.93" y="16.67" font-size="5.0" fill="#1a1a1a" text-anchor="middle">0.33</text>
<text x="510.93" y="22.37" font-size="5.0" fill="#1a1a1a" text-anchor="middle">(0.03)</text>
<text x="531.04" y="16.67" font-size="5.0" fill="#1a1a1a" text-anchor="middle">0.41</text>
<text x="531.04" y="22.37" font-size="5.0" fill="#1a1a1a" text-anchor="middle">(0.005)</text>
<text x="269.71" y="29.32" font-size="5.0" fill="#1a1a1a" text-anchor="middle">0.31</text>
<text x="269.71" y="35.02" font-size="5.0" fill="#1a1a1a" text-anchor="middle">(0.05)</text>
<text x="370.22" y="29.32" font-size="5.0" fill="#1a1a1a" text-anchor="middle">−0.34</text>
<text x="370.22" y="35.02" font-size="5.0" fill="#1a1a1a" text-anchor="middle">(0.03)</text>
<text x="390.32" y="29.32" font-size="5.0" fill="#1a1a1a" text-anchor="middle">−0.38</text>
<text x="390.32" y="35.02" font-size="5.0" fill="#1a1a1a" text-anchor="middle">(0.01)</text>
<text x="410.42" y="29.32" font-size="5.0" fill="#1a1a1a" text-anchor="middle">−0.34</text>
<text x="410.42" y="35.02" font-size="5.0" fill="#1a1a1a" text-anchor="middle">(0.03)</text>
<text x="430.52" y="29.32" font-size="5.0" fill="#1a1a1a" text-anchor="middle">−0.43</text>
<text x="430.52" y="35.02" font-size="5.0" fill="#1a1a1a" text-anchor="middle">(0.004)</text>
<text x="470.73" y="29.32" font-size="5.0" fill="#1a1a1a" text-anchor="middle">−0.34</text>
<text x="470.73" y="35.02" font-size="5.0" fill="#1a1a1a" text-anchor="middle">(0.03)</text>
<text x="490.83" y="29.32" font-size="5.0" fill="#1a1a1a" text-anchor="middle">−0.34</text>
<text x="490.83" y="35.02" font-size="5.0" fill="#1a1a1a" text-anchor="middle">(0.03)</text>
<text x="551.14" y="29.32" font-size="5.0" fill="#1a1a1a" text-anchor="middle">−0.37</text>
<text x="551.14" y="35.02" font-size="5.0" fill="#1a1a1a" text-anchor="middle">(0.01)</text>
<text x="631.55" y="29.32" font-size="5.0" fill="#1a1a1a" text-anchor="middle">0.32</text>
<text x="631.55" y="35.02" font-size="5.0" fill="#1a1a1a" text-anchor="middle">(0.04)</text>
<text x="269.71" y="41.97" font-size="5.0" fill="#1a1a1a" text-anchor="middle">0.33</text>
<text x="269.71" y="47.67" font-size="5.0" fill="#1a1a1a" text-anchor="middle">(0.03)</text>
<text x="390.32" y="41.97" font-size="5.0" fill="#1a1a1a" text-anchor="middle">−0.38</text>
<text x="390.32" y="47.67" font-size="5.0" fill="#1a1a1a" text-anchor="middle">(0.01)</text>
<text x="430.52" y="41.97" font-size="5.0" fill="#1a1a1a" text-anchor="middle">−0.39</text>
<text x="430.52" y="47.67" font-size="5.0" fill="#1a1a1a" text-anchor="middle">(0.01)</text>
<text x="470.73" y="41.97" font-size="5.0" fill="#1a1a1a" text-anchor="middle">−0.34</text>
<text x="470.73" y="47.67" font-size="5.0" fill="#1a1a1a" text-anchor="middle">(0.03)</text>
<text x="490.83" y="41.97" font-size="5.0" fill="#1a1a1a" text-anchor="middle">−0.33</text>
<text x="490.83" y="47.67" font-size="5.0" fill="#1a1a1a" text-anchor="middle">(0.03)</text>
<text x="631.55" y="54.62" font-size="5.0" fill="#1a1a1a" text-anchor="middle">0.42</text>
<text x="631.55" y="60.32" font-size="5.0" fill="#1a1a1a" text-anchor="middle">(0.004)</text>
<text x="551.14" y="79.91" font-size="5.0" fill="#1a1a1a" text-anchor="middle">−0.35</text>
<text x="551.14" y="85.61" font-size="5.0" fill="#1a1a1a" text-anchor="middle">(0.02)</text>
<text x="631.55" y="79.91" font-size="5.0" fill="#1a1a1a" text-anchor="middle">0.46</text>
<text x="631.55" y="85.61" font-size="5.0" fill="#1a1a1a" text-anchor="middle">(7×10<tspan font-size="3.2" dy="-1.6">−4</tspan><tspan dy="1.6">)</tspan></text>
<text x="631.55" y="92.56" font-size="5.0" fill="#1a1a1a" text-anchor="middle">0.53</text>
<text x="631.55" y="98.26" font-size="5.0" fill="#1a1a1a" text-anchor="middle">(1×10<tspan font-size="3.2" dy="-1.6">−4</tspan><tspan dy="1.6">)</tspan></text>
<text x="289.81" y="105.21" font-size="5.0" fill="#1a1a1a" text-anchor="middle">0.42</text>
<text x="289.81" y="110.91" font-size="5.0" fill="#1a1a1a" text-anchor="middle">(0.004)</text>
<text x="350.12" y="117.86" font-size="5.0" fill="#1a1a1a" text-anchor="middle">−0.32</text>
<text x="350.12" y="123.56" font-size="5.0" fill="#1a1a1a" text-anchor="middle">(0.04)</text>
<text x="390.32" y="117.86" font-size="5.0" fill="#1a1a1a" text-anchor="middle">−0.39</text>
<text x="390.32" y="123.56" font-size="5.0" fill="#1a1a1a" text-anchor="middle">(0.009)</text>
<text x="430.52" y="117.86" font-size="5.0" fill="#1a1a1a" text-anchor="middle">−0.42</text>
<text x="430.52" y="123.56" font-size="5.0" fill="#1a1a1a" text-anchor="middle">(0.005)</text>
<text x="490.83" y="117.86" font-size="5.0" fill="#1a1a1a" text-anchor="middle">−0.33</text>
<text x="490.83" y="123.56" font-size="5.0" fill="#1a1a1a" text-anchor="middle">(0.03)</text>
<text x="350.12" y="130.50" font-size="5.0" fill="#1a1a1a" text-anchor="middle">0.32</text>
<text x="350.12" y="136.20" font-size="5.0" fill="#1a1a1a" text-anchor="middle">(0.04)</text>
<text x="631.55" y="143.15" font-size="5.0" fill="#1a1a1a" text-anchor="middle">0.33</text>
<text x="631.55" y="148.85" font-size="5.0" fill="#1a1a1a" text-anchor="middle">(0.03)</text>
<text x="370.22" y="168.45" font-size="5.0" fill="#1a1a1a" text-anchor="middle">−0.36</text>
<text x="370.22" y="174.15" font-size="5.0" fill="#1a1a1a" text-anchor="middle">(0.01)</text>
<text x="430.52" y="168.45" font-size="5.0" fill="#1a1a1a" text-anchor="middle">−0.38</text>
<text x="430.52" y="174.15" font-size="5.0" fill="#1a1a1a" text-anchor="middle">(0.01)</text>
<text x="470.73" y="168.45" font-size="5.0" fill="#1a1a1a" text-anchor="middle">−0.35</text>
<text x="470.73" y="174.15" font-size="5.0" fill="#1a1a1a" text-anchor="middle">(0.02)</text>
<text x="531.04" y="168.45" font-size="5.0" fill="#1a1a1a" text-anchor="middle">−0.44</text>
<text x="531.04" y="174.15" font-size="5.0" fill="#1a1a1a" text-anchor="middle">(0.003)</text>
<text x="430.52" y="181.10" font-size="5.0" fill="#1a1a1a" text-anchor="middle">−0.35</text>
<text x="430.52" y="186.80" font-size="5.0" fill="#1a1a1a" text-anchor="middle">(0.02)</text>
<text x="269.71" y="193.74" font-size="5.0" fill="#1a1a1a" text-anchor="middle">0.37</text>
<text x="269.71" y="199.44" font-size="5.0" fill="#1a1a1a" text-anchor="middle">(0.01)</text>
<text x="510.93" y="193.74" font-size="5.0" fill="#1a1a1a" text-anchor="middle">−0.33</text>
<text x="510.93" y="199.44" font-size="5.0" fill="#1a1a1a" text-anchor="middle">(0.03)</text>
<text x="531.04" y="193.74" font-size="5.0" fill="#1a1a1a" text-anchor="middle">−0.47</text>
<text x="531.04" y="199.44" font-size="5.0" fill="#1a1a1a" text-anchor="middle">(0.001)</text>
<text x="249.60" y="206.39" font-size="5.0" fill="#1a1a1a" text-anchor="middle">0.36</text>
<text x="249.60" y="212.09" font-size="5.0" fill="#1a1a1a" text-anchor="middle">(0.02)</text>
<text x="269.71" y="206.39" font-size="5.0" fill="#1a1a1a" text-anchor="middle">0.57</text>
<text x="269.71" y="212.09" font-size="5.0" fill="#1a1a1a" text-anchor="middle">(2×10<tspan font-size="3.2" dy="-1.6">−5</tspan><tspan dy="1.6">)</tspan></text>
<text x="289.81" y="206.39" font-size="5.0" fill="#1a1a1a" text-anchor="middle">−0.57</text>
<text x="289.81" y="212.09" font-size="5.0" fill="#1a1a1a" text-anchor="middle">(2×10<tspan font-size="3.2" dy="-1.6">−5</tspan><tspan dy="1.6">)</tspan></text>
<text x="309.91" y="206.39" font-size="5.0" fill="#1a1a1a" text-anchor="middle">−0.36</text>
<text x="309.91" y="212.09" font-size="5.0" fill="#1a1a1a" text-anchor="middle">(0.01)</text>
<text x="350.12" y="206.39" font-size="5.0" fill="#1a1a1a" text-anchor="middle">−0.36</text>
<text x="350.12" y="212.09" font-size="5.0" fill="#1a1a1a" text-anchor="middle">(0.02)</text>
<text x="510.93" y="206.39" font-size="5.0" fill="#1a1a1a" text-anchor="middle">−0.46</text>
<text x="510.93" y="212.09" font-size="5.0" fill="#1a1a1a" text-anchor="middle">(0.002)</text>
<text x="531.04" y="206.39" font-size="5.0" fill="#1a1a1a" text-anchor="middle">−0.53</text>
<text x="531.04" y="212.09" font-size="5.0" fill="#1a1a1a" text-anchor="middle">(1×10<tspan font-size="3.2" dy="-1.6">−4</tspan><tspan dy="1.6">)</tspan></text>
<text x="249.60" y="219.04" font-size="5.0" fill="#1a1a1a" text-anchor="middle">0.34</text>
<text x="249.60" y="224.74" font-size="5.0" fill="#1a1a1a" text-anchor="middle">(0.03)</text>
<text x="269.71" y="219.04" font-size="5.0" fill="#1a1a1a" text-anchor="middle">0.58</text>
<text x="269.71" y="224.74" font-size="5.0" fill="#1a1a1a" text-anchor="middle">(1×10<tspan font-size="3.2" dy="-1.6">−5</tspan><tspan dy="1.6">)</tspan></text>
<text x="309.91" y="219.04" font-size="5.0" fill="#1a1a1a" text-anchor="middle">−0.41</text>
<text x="309.91" y="224.74" font-size="5.0" fill="#1a1a1a" text-anchor="middle">(0.006)</text>
<text x="350.12" y="219.04" font-size="5.0" fill="#1a1a1a" text-anchor="middle">−0.61</text>
<text x="350.12" y="224.74" font-size="5.0" fill="#1a1a1a" text-anchor="middle">(4×10<tspan font-size="3.2" dy="-1.6">−6</tspan><tspan dy="1.6">)</tspan></text>
<text x="370.22" y="219.04" font-size="5.0" fill="#1a1a1a" text-anchor="middle">−0.47</text>
<text x="370.22" y="224.74" font-size="5.0" fill="#1a1a1a" text-anchor="middle">(0.001)</text>
<text x="390.32" y="219.04" font-size="5.0" fill="#1a1a1a" text-anchor="middle">−0.43</text>
<text x="390.32" y="224.74" font-size="5.0" fill="#1a1a1a" text-anchor="middle">(0.003)</text>
<text x="410.42" y="219.04" font-size="5.0" fill="#1a1a1a" text-anchor="middle">−0.39</text>
<text x="410.42" y="224.74" font-size="5.0" fill="#1a1a1a" text-anchor="middle">(0.01)</text>
<text x="430.52" y="219.04" font-size="5.0" fill="#1a1a1a" text-anchor="middle">−0.63</text>
<text x="430.52" y="224.74" font-size="5.0" fill="#1a1a1a" text-anchor="middle">(2×10<tspan font-size="3.2" dy="-1.6">−6</tspan><tspan dy="1.6">)</tspan></text>
<text x="450.63" y="219.04" font-size="5.0" fill="#1a1a1a" text-anchor="middle">−0.34</text>
<text x="450.63" y="224.74" font-size="5.0" fill="#1a1a1a" text-anchor="middle">(0.03)</text>
<text x="470.73" y="219.04" font-size="5.0" fill="#1a1a1a" text-anchor="middle">−0.53</text>
<text x="470.73" y="224.74" font-size="5.0" fill="#1a1a1a" text-anchor="middle">(1×10<tspan font-size="3.2" dy="-1.6">−4</tspan><tspan dy="1.6">)</tspan></text>
<text x="490.83" y="219.04" font-size="5.0" fill="#1a1a1a" text-anchor="middle">−0.46</text>
<text x="490.83" y="224.74" font-size="5.0" fill="#1a1a1a" text-anchor="middle">(0.001)</text>
<text x="510.93" y="219.04" font-size="5.0" fill="#1a1a1a" text-anchor="middle">−0.38</text>
<text x="510.93" y="224.74" font-size="5.0" fill="#1a1a1a" text-anchor="middle">(0.01)</text>
<text x="531.04" y="219.04" font-size="5.0" fill="#1a1a1a" text-anchor="middle">−0.5</text>
<text x="531.04" y="224.74" font-size="5.0" fill="#1a1a1a" text-anchor="middle">(4×10<tspan font-size="3.2" dy="-1.6">−4</tspan><tspan dy="1.6">)</tspan></text>
<text x="330.01" y="231.69" font-size="5.0" fill="#1a1a1a" text-anchor="middle">0.41</text>
<text x="330.01" y="237.39" font-size="5.0" fill="#1a1a1a" text-anchor="middle">(0.006)</text>
<text x="350.12" y="231.69" font-size="5.0" fill="#1a1a1a" text-anchor="middle">0.38</text>
<text x="350.12" y="237.39" font-size="5.0" fill="#1a1a1a" text-anchor="middle">(0.02)</text>
<text x="370.22" y="231.69" font-size="5.0" fill="#1a1a1a" text-anchor="middle">0.42</text>
<text x="370.22" y="237.39" font-size="5.0" fill="#1a1a1a" text-anchor="middle">(0.005)</text>
<text x="390.32" y="231.69" font-size="5.0" fill="#1a1a1a" text-anchor="middle">0.44</text>
<text x="390.32" y="237.39" font-size="5.0" fill="#1a1a1a" text-anchor="middle">(0.003)</text>
<text x="430.52" y="231.69" font-size="5.0" fill="#1a1a1a" text-anchor="middle">0.37</text>
<text x="430.52" y="237.39" font-size="5.0" fill="#1a1a1a" text-anchor="middle">(0.01)</text>
<text x="470.73" y="231.69" font-size="5.0" fill="#1a1a1a" text-anchor="middle">0.38</text>
<text x="470.73" y="237.39" font-size="5.0" fill="#1a1a1a" text-anchor="middle">(0.01)</text>
<text x="490.83" y="231.69" font-size="5.0" fill="#1a1a1a" text-anchor="middle">0.33</text>
<text x="490.83" y="237.39" font-size="5.0" fill="#1a1a1a" text-anchor="middle">(0.03)</text>
<text x="551.14" y="231.69" font-size="5.0" fill="#1a1a1a" text-anchor="middle">0.32</text>
<text x="551.14" y="237.39" font-size="5.0" fill="#1a1a1a" text-anchor="middle">(0.04)</text>
<text x="350.12" y="244.33" font-size="5.0" fill="#1a1a1a" text-anchor="middle">0.34</text>
<text x="350.12" y="250.03" font-size="5.0" fill="#1a1a1a" text-anchor="middle">(0.03)</text>
<text x="430.52" y="244.33" font-size="5.0" fill="#1a1a1a" text-anchor="middle">0.33</text>
<text x="430.52" y="250.03" font-size="5.0" fill="#1a1a1a" text-anchor="middle">(0.03)</text>
<text x="470.73" y="244.33" font-size="5.0" fill="#1a1a1a" text-anchor="middle">0.32</text>
<text x="470.73" y="250.03" font-size="5.0" fill="#1a1a1a" text-anchor="middle">(0.03)</text>
<text x="490.83" y="244.33" font-size="5.0" fill="#1a1a1a" text-anchor="middle">0.33</text>
<text x="490.83" y="250.03" font-size="5.0" fill="#1a1a1a" text-anchor="middle">(0.03)</text>
<text x="591.34" y="244.33" font-size="5.0" fill="#1a1a1a" text-anchor="middle">−0.34</text>
<text x="591.34" y="250.03" font-size="5.0" fill="#1a1a1a" text-anchor="middle">(0.03)</text>
<text x="229.50" y="256.98" font-size="5.0" fill="#1a1a1a" text-anchor="middle">0.51</text>
<text x="229.50" y="262.68" font-size="5.0" fill="#1a1a1a" text-anchor="middle">(2×10<tspan font-size="3.2" dy="-1.6">−4</tspan><tspan dy="1.6">)</tspan></text>
<text x="249.60" y="256.98" font-size="5.0" fill="#1a1a1a" text-anchor="middle">0.45</text>
<text x="249.60" y="262.68" font-size="5.0" fill="#1a1a1a" text-anchor="middle">(0.002)</text>
<text x="269.71" y="256.98" font-size="5.0" fill="#1a1a1a" text-anchor="middle">0.43</text>
<text x="269.71" y="262.68" font-size="5.0" fill="#1a1a1a" text-anchor="middle">(0.004)</text>
<text x="309.91" y="256.98" font-size="5.0" fill="#1a1a1a" text-anchor="middle">−0.39</text>
<text x="309.91" y="262.68" font-size="5.0" fill="#1a1a1a" text-anchor="middle">(0.009)</text>
<text x="269.71" y="294.93" font-size="5.0" fill="#1a1a1a" text-anchor="middle">0.41</text>
<text x="269.71" y="300.63" font-size="5.0" fill="#1a1a1a" text-anchor="middle">(0.005)</text>
<text x="289.81" y="294.93" font-size="5.0" fill="#1a1a1a" text-anchor="middle">−0.32</text>
<text x="289.81" y="300.63" font-size="5.0" fill="#1a1a1a" text-anchor="middle">(0.03)</text>
<text x="531.04" y="294.93" font-size="5.0" fill="#1a1a1a" text-anchor="middle">−0.35</text>
<text x="531.04" y="300.63" font-size="5.0" fill="#1a1a1a" text-anchor="middle">(0.02)</text>
<rect x="219.45" y="11.50" width="422.15" height="289.90" fill="none" stroke="#8a8a8a" stroke-width="1"/>
<text x="215.50" y="19.90" font-size="8.8" fill="#8e3a93" text-anchor="end" textLength="16.83" lengthAdjust="spacingAndGlyphs"  stroke="#8e3a93" stroke-width="0.1">ME8</text>
<text x="215.50" y="32.61" font-size="8.8" fill="#1a1a1a" text-anchor="end" textLength="16.83" lengthAdjust="spacingAndGlyphs"  stroke="#1a1a1a" stroke-width="0.1">ME1</text>
<text x="215.50" y="45.32" font-size="8.8" fill="#1a1a1a" text-anchor="end" textLength="16.83" lengthAdjust="spacingAndGlyphs"  stroke="#1a1a1a" stroke-width="0.1">ME2</text>
<text x="215.50" y="58.03" font-size="8.8" fill="#1a1a1a" text-anchor="end" textLength="16.83" lengthAdjust="spacingAndGlyphs"  stroke="#1a1a1a" stroke-width="0.1">ME4</text>
<text x="215.50" y="70.74" font-size="8.8" fill="#1a1a1a" text-anchor="end" textLength="20.77" lengthAdjust="spacingAndGlyphs"  stroke="#1a1a1a" stroke-width="0.1">ME11</text>
<text x="215.50" y="83.45" font-size="8.8" fill="#d8262e" text-anchor="end" textLength="21.38" lengthAdjust="spacingAndGlyphs"  stroke="#d8262e" stroke-width="0.1">ME17</text>
<text x="215.50" y="96.16" font-size="8.8" fill="#a0603a" text-anchor="end" textLength="21.38" lengthAdjust="spacingAndGlyphs"  stroke="#a0603a" stroke-width="0.1">ME18</text>
<text x="215.50" y="108.87" font-size="8.8" fill="#1a1a1a" text-anchor="end" textLength="16.83" lengthAdjust="spacingAndGlyphs"  stroke="#1a1a1a" stroke-width="0.1">ME6</text>
<text x="215.50" y="121.58" font-size="8.8" fill="#1a1a1a" text-anchor="end" textLength="16.83" lengthAdjust="spacingAndGlyphs"  stroke="#1a1a1a" stroke-width="0.1">ME7</text>
<text x="215.50" y="134.29" font-size="8.8" fill="#1a1a1a" text-anchor="end" textLength="21.38" lengthAdjust="spacingAndGlyphs"  stroke="#1a1a1a" stroke-width="0.1">ME13</text>
<text x="215.50" y="147.00" font-size="8.8" fill="#1a1a1a" text-anchor="end" textLength="21.38" lengthAdjust="spacingAndGlyphs"  stroke="#1a1a1a" stroke-width="0.1">ME15</text>
<text x="215.50" y="159.71" font-size="8.8" fill="#1a1a1a" text-anchor="end" textLength="21.38" lengthAdjust="spacingAndGlyphs"  stroke="#1a1a1a" stroke-width="0.1">ME21</text>
<text x="215.50" y="172.42" font-size="8.8" fill="#22b862" text-anchor="end" textLength="21.38" lengthAdjust="spacingAndGlyphs"  stroke="#22b862" stroke-width="0.1">ME22</text>
<text x="215.50" y="185.13" font-size="8.8" fill="#1a1a1a" text-anchor="end" textLength="16.83" lengthAdjust="spacingAndGlyphs"  stroke="#1a1a1a" stroke-width="0.1">ME3</text>
<text x="215.50" y="197.84" font-size="8.8" fill="#55994a" text-anchor="end" textLength="21.38" lengthAdjust="spacingAndGlyphs"  stroke="#55994a" stroke-width="0.1">ME10</text>
<text x="215.50" y="210.55" font-size="8.8" fill="#a8a032" text-anchor="end" textLength="16.83" lengthAdjust="spacingAndGlyphs"  stroke="#a8a032" stroke-width="0.1">ME9</text>
<text x="215.50" y="223.26" font-size="8.8" fill="#ef3f98" text-anchor="end" textLength="21.38" lengthAdjust="spacingAndGlyphs"  stroke="#ef3f98" stroke-width="0.1">ME12</text>
<text x="215.50" y="235.97" font-size="8.8" fill="#22afea" text-anchor="end" textLength="16.83" lengthAdjust="spacingAndGlyphs"  stroke="#22afea" stroke-width="0.1">ME5</text>
<text x="215.50" y="248.68" font-size="8.8" fill="#3f6aad" text-anchor="end" textLength="21.38" lengthAdjust="spacingAndGlyphs"  stroke="#3f6aad" stroke-width="0.1">ME14</text>
<text x="215.50" y="261.39" font-size="8.8" fill="#1a1a1a" text-anchor="end" textLength="21.38" lengthAdjust="spacingAndGlyphs"  stroke="#1a1a1a" stroke-width="0.1">ME16</text>
<text x="215.50" y="274.10" font-size="8.8" fill="#1a1a1a" text-anchor="end" textLength="21.38" lengthAdjust="spacingAndGlyphs"  stroke="#1a1a1a" stroke-width="0.1">ME19</text>
<text x="215.50" y="286.81" font-size="8.8" fill="#1a1a1a" text-anchor="end" textLength="21.38" lengthAdjust="spacingAndGlyphs"  stroke="#1a1a1a" stroke-width="0.1">ME20</text>
<text x="215.50" y="299.52" font-size="8.8" fill="#1a1a1a" text-anchor="end" textLength="16.83" lengthAdjust="spacingAndGlyphs"  stroke="#1a1a1a" stroke-width="0.1">ME0</text>
<text transform="translate(231.60,308.30) rotate(-45)" font-size="7.45" fill="#1a1a1a" stroke="#1a1a1a" stroke-width="0.18" text-anchor="end">FEV<tspan font-size="5.07" dy="2.53">1</tspan></text>
<text transform="translate(251.70,308.30) rotate(-45)" font-size="7.45" fill="#1a1a1a" stroke="#1a1a1a" stroke-width="0.18" text-anchor="end">FEV<tspan font-size="5.07" dy="2.53">1</tspan><tspan dy="-2.53">/FVC</tspan></text>
<text transform="translate(271.81,308.30) rotate(-45)" font-size="7.45" fill="#1a1a1a" stroke="#1a1a1a" stroke-width="0.18" text-anchor="end">DLCO</text>
<text transform="translate(291.91,308.30) rotate(-45)" font-size="7.45" fill="#1a1a1a" stroke="#1a1a1a" stroke-width="0.18" text-anchor="end">Emphysema</text>
<text transform="translate(312.01,308.30) rotate(-45)" font-size="7.45" fill="#1a1a1a" stroke="#1a1a1a" stroke-width="0.18" text-anchor="end">Symptoms</text>
<text transform="translate(332.11,308.30) rotate(-45)" font-size="7.45" fill="#1a1a1a" stroke="#1a1a1a" stroke-width="0.18" text-anchor="end">Pack years</text>
<text transform="translate(352.22,308.30) rotate(-45)" font-size="7.45" fill="#1a1a1a" stroke="#1a1a1a" stroke-width="0.18" text-anchor="end">Artery<tspan font-size="5.07" dy="2.53">1</tspan></text>
<text transform="translate(372.32,308.30) rotate(-45)" font-size="7.45" fill="#1a1a1a" stroke="#1a1a1a" stroke-width="0.18" text-anchor="end">Aerocyte<tspan font-size="5.07" dy="2.53">1</tspan></text>
<text transform="translate(392.42,308.30) rotate(-45)" font-size="7.45" fill="#1a1a1a" stroke="#1a1a1a" stroke-width="0.18" text-anchor="end">gCap<tspan font-size="5.07" dy="2.53">1</tspan></text>
<text transform="translate(412.52,308.30) rotate(-45)" font-size="7.45" fill="#1a1a1a" stroke="#1a1a1a" stroke-width="0.18" text-anchor="end">AT2<tspan font-size="5.07" dy="2.53">1</tspan></text>
<text transform="translate(432.62,308.30) rotate(-45)" font-size="7.45" fill="#1a1a1a" stroke="#1a1a1a" stroke-width="0.18" text-anchor="end">AT1<tspan font-size="5.07" dy="2.53">1</tspan></text>
<text transform="translate(452.73,308.30) rotate(-45)" font-size="7.45" fill="#1a1a1a" stroke="#1a1a1a" stroke-width="0.18" text-anchor="end">Sec.<tspan font-size="5.07" dy="2.53">1</tspan></text>
<text transform="translate(472.83,308.30) rotate(-45)" font-size="7.45" fill="#1a1a1a" stroke="#1a1a1a" stroke-width="0.18" text-anchor="end">Alv. fibroblast<tspan font-size="5.07" dy="2.53">1</tspan></text>
<text transform="translate(492.93,308.30) rotate(-45)" font-size="7.45" fill="#1a1a1a" stroke="#1a1a1a" stroke-width="0.18" text-anchor="end">Adv. fibroblast<tspan font-size="5.07" dy="2.53">1</tspan></text>
<text transform="translate(513.03,308.30) rotate(-45)" font-size="7.45" fill="#1a1a1a" stroke="#1a1a1a" stroke-width="0.18" text-anchor="end">ABC</text>
<text transform="translate(533.14,308.30) rotate(-45)" font-size="7.45" fill="#1a1a1a" stroke="#1a1a1a" stroke-width="0.18" text-anchor="end">CTHRC1 fibroblast</text>
<text transform="translate(553.24,308.30) rotate(-45)" font-size="7.45" fill="#1a1a1a" stroke="#1a1a1a" stroke-width="0.18" text-anchor="end">AM<tspan font-size="5.07" dy="2.53">CSF</tspan></text>
<text transform="translate(573.34,308.30) rotate(-45)" font-size="7.45" fill="#1a1a1a" stroke="#1a1a1a" stroke-width="0.18" text-anchor="end">AM<tspan font-size="5.07" dy="2.53">inflam</tspan></text>
<text transform="translate(593.44,308.30) rotate(-45)" font-size="7.45" fill="#1a1a1a" stroke="#1a1a1a" stroke-width="0.18" text-anchor="end">AM<tspan font-size="5.07" dy="2.53">NR4A</tspan></text>
<text transform="translate(613.55,308.30) rotate(-45)" font-size="7.45" fill="#1a1a1a" stroke="#1a1a1a" stroke-width="0.18" text-anchor="end">IM<tspan font-size="5.07" dy="2.53">1</tspan></text>
<text transform="translate(633.65,308.30) rotate(-45)" font-size="7.45" fill="#1a1a1a" stroke="#1a1a1a" stroke-width="0.18" text-anchor="end">IM<tspan font-size="5.07" dy="2.53">CHIT</tspan></text>
<defs><linearGradient id="cb35" x1="0" y1="0" x2="0" y2="1"><stop offset="0" stop-color="#ff3300"/><stop offset="0.5" stop-color="#ffffff"/><stop offset="1" stop-color="#1987ff"/></linearGradient></defs>
<rect x="654.3" y="35.4" width="8.300000000000068" height="242.20000000000002" fill="url(#cb35)" stroke="#444" stroke-width="0.8"/>
<line x1="662.6" y1="35.40" x2="666.6" y2="35.40" stroke="#999" stroke-width="0.8"/>
<text x="669.80" y="38.28" font-size="8" fill="#333" text-anchor="start"  stroke="#333" stroke-width="0.22">1</text>
<line x1="662.6" y1="95.95" x2="666.6" y2="95.95" stroke="#999" stroke-width="0.8"/>
<text x="669.80" y="98.83" font-size="8" fill="#333" text-anchor="start"  stroke="#333" stroke-width="0.22">0.5</text>
<line x1="662.6" y1="156.50" x2="666.6" y2="156.50" stroke="#999" stroke-width="0.8"/>
<text x="669.80" y="159.38" font-size="8" fill="#333" text-anchor="start"  stroke="#333" stroke-width="0.22">0</text>
<line x1="662.6" y1="217.05" x2="666.6" y2="217.05" stroke="#999" stroke-width="0.8"/>
<text x="669.80" y="219.93" font-size="8" fill="#333" text-anchor="start"  stroke="#333" stroke-width="0.22">−0.5</text>
<line x1="662.6" y1="277.60" x2="666.6" y2="277.60" stroke="#999" stroke-width="0.8"/>
<text x="669.80" y="280.48" font-size="8" fill="#333" text-anchor="start"  stroke="#333" stroke-width="0.22">−1</text>
<text x="70.50" y="21.50" font-size="8.4" fill="#8e3a93" text-anchor="start" textLength="98.9" lengthAdjust="spacingAndGlyphs"  stroke="#8e3a93" stroke-width="0.08">ME8: COL1A1-2, COL2A1,</text>
<text x="92.70" y="32.90" font-size="8.4" fill="#8e3a93" text-anchor="start" textLength="76.7" lengthAdjust="spacingAndGlyphs"  stroke="#8e3a93" stroke-width="0.08">COL3A1, COL5A1-3</text>
<text x="82.70" y="78.10" font-size="8.4" fill="#d8262e" text-anchor="start" textLength="86.7" lengthAdjust="spacingAndGlyphs"  stroke="#d8262e" stroke-width="0.08">ME17: MMP12, GSTO1,</text>
<text x="119.60" y="88.80" font-size="8.4" fill="#d8262e" text-anchor="start" textLength="49.8" lengthAdjust="spacingAndGlyphs"  stroke="#d8262e" stroke-width="0.08">C1QC, C1QA</text>
<text x="68.90" y="105.50" font-size="8.4" fill="#a0603a" text-anchor="start" textLength="100.5" lengthAdjust="spacingAndGlyphs"  stroke="#a0603a" stroke-width="0.08">ME18: CTSB, CTSD, CTSS</text>
<text x="64.20" y="151.60" font-size="8.4" fill="#22b862" text-anchor="start" textLength="105.2" lengthAdjust="spacingAndGlyphs"  stroke="#22b862" stroke-width="0.08">ME22: KRT16, KRT78, KRT2</text>
<text x="59.70" y="162.40" font-size="8.4" fill="#22b862" text-anchor="start" textLength="109.7" lengthAdjust="spacingAndGlyphs"  stroke="#22b862" stroke-width="0.08">KRT10, KRT6B, KRT6A, KRT1</text>
<text x="92.50" y="178.70" font-size="8.4" fill="#55994a" text-anchor="start" textLength="76.9" lengthAdjust="spacingAndGlyphs"  stroke="#55994a" stroke-width="0.08">ME10: endocytosis,</text>
<text x="115.70" y="189.70" font-size="8.4" fill="#55994a" text-anchor="start" textLength="53.7" lengthAdjust="spacingAndGlyphs"  stroke="#55994a" stroke-width="0.08">cell junctions</text>
<text x="63.10" y="207.00" font-size="8.4" fill="#a8a032" text-anchor="start" textLength="106.3" lengthAdjust="spacingAndGlyphs"  stroke="#a8a032" stroke-width="0.08">ME9: COL4A1-6, LAMA3-5,</text>
<text x="55.00" y="217.40" font-size="8.4" fill="#a8a032" text-anchor="start" textLength="114.4" lengthAdjust="spacingAndGlyphs"  stroke="#a8a032" stroke-width="0.08">LAMB1-2, LAMB2-3, LAMC1-3</text>
<text x="76.80" y="233.70" font-size="8.4" fill="#ef3f98" text-anchor="start" textLength="92.6" lengthAdjust="spacingAndGlyphs"  stroke="#ef3f98" stroke-width="0.08">ME12: CD55, SERPINA1,</text>
<text x="86.80" y="245.00" font-size="8.4" fill="#ef3f98" text-anchor="start" textLength="82.6" lengthAdjust="spacingAndGlyphs"  stroke="#ef3f98" stroke-width="0.08">SERPING1, SERPINC1</text>
<text x="47.40" y="262.10" font-size="8.4" fill="#22afea" text-anchor="start" textLength="122.0" lengthAdjust="spacingAndGlyphs"  stroke="#22afea" stroke-width="0.08">ME5: neutrophil degranulation</text>
<text x="76.80" y="273.10" font-size="8.4" fill="#22afea" text-anchor="start" textLength="92.6" lengthAdjust="spacingAndGlyphs"  stroke="#22afea" stroke-width="0.08">IL10, TNF, TLR4 activity</text>
<text x="66.30" y="290.20" font-size="8.4" fill="#3f6aad" text-anchor="start" textLength="103.1" lengthAdjust="spacingAndGlyphs"  stroke="#3f6aad" stroke-width="0.08">ME14: CMA1, CTSG, CPA3</text>
<line x1="176" y1="17.5" x2="191.5" y2="17.5" stroke="#8e3a93" stroke-width="1"/>
<line x1="176" y1="80.6" x2="188.5" y2="80.6" stroke="#d8262e" stroke-width="1"/>
<line x1="175.2" y1="100.2" x2="187.3" y2="93.2" stroke="#a0603a" stroke-width="1"/>
<line x1="175.3" y1="156.3" x2="187.7" y2="166.3" stroke="#22b862" stroke-width="1"/>
<line x1="175.3" y1="181.5" x2="187.7" y2="193.9" stroke="#55994a" stroke-width="1"/>
<line x1="175.3" y1="209.5" x2="188.7" y2="209.5" stroke="#a8a032" stroke-width="1"/>
<line x1="173.5" y1="235.0" x2="188.7" y2="226.0" stroke="#ef3f98" stroke-width="1"/>
<line x1="173.5" y1="263.3" x2="189.8" y2="235.7" stroke="#22afea" stroke-width="1"/>
<line x1="173.5" y1="284.3" x2="188.7" y2="248.9" stroke="#3f6aad" stroke-width="1"/>
<text x="0.60" y="375.50" font-size="12" fill="#000" text-anchor="start" font-weight="bold" stroke="#000" stroke-width="0.6">b</text>
<rect x="33.6" y="381.7" width="190.9" height="157.50000000000006" fill="#fff"/>
<line x1="39.85" y1="381.7" x2="39.85" y2="539.2" stroke="#ebebeb" stroke-width="0.6"/>
<line x1="63.70" y1="381.7" x2="63.70" y2="539.2" stroke="#ebebeb" stroke-width="1.0"/>
<line x1="87.55" y1="381.7" x2="87.55" y2="539.2" stroke="#ebebeb" stroke-width="0.6"/>
<line x1="111.40" y1="381.7" x2="111.40" y2="539.2" stroke="#ebebeb" stroke-width="1.0"/>
<line x1="135.25" y1="381.7" x2="135.25" y2="539.2" stroke="#ebebeb" stroke-width="0.6"/>
<line x1="159.10" y1="381.7" x2="159.10" y2="539.2" stroke="#ebebeb" stroke-width="1.0"/>
<line x1="182.95" y1="381.7" x2="182.95" y2="539.2" stroke="#ebebeb" stroke-width="0.6"/>
<line x1="206.80" y1="381.7" x2="206.80" y2="539.2" stroke="#ebebeb" stroke-width="1.0"/>
<line x1="33.6" y1="532.20" x2="224.5" y2="532.20" stroke="#ebebeb" stroke-width="0.6"/>
<line x1="33.6" y1="508.20" x2="224.5" y2="508.20" stroke="#ebebeb" stroke-width="1.0"/>
<line x1="33.6" y1="484.20" x2="224.5" y2="484.20" stroke="#ebebeb" stroke-width="0.6"/>
<line x1="33.6" y1="460.20" x2="224.5" y2="460.20" stroke="#ebebeb" stroke-width="1.0"/>
<line x1="33.6" y1="436.20" x2="224.5" y2="436.20" stroke="#ebebeb" stroke-width="0.6"/>
<line x1="33.6" y1="412.20" x2="224.5" y2="412.20" stroke="#ebebeb" stroke-width="1.0"/>
<line x1="33.6" y1="388.20" x2="224.5" y2="388.20" stroke="#ebebeb" stroke-width="0.6"/>
<circle cx="123.9" cy="389" r="3.85" fill="#b48cff"/>
<circle cx="42.4" cy="410.8" r="3.85" fill="#1ec80f"/>
<circle cx="65.5" cy="402.1" r="3.85" fill="#ff6e6e"/>
<circle cx="116.4" cy="429.8" r="3.85" fill="#1ec80f"/>
<circle cx="115.8" cy="433" r="3.85" fill="#b48cff"/>
<circle cx="64.6" cy="430.6" r="3.85" fill="#ff55f0"/>
<circle cx="103.7" cy="434.9" r="3.85" fill="#00c8ff"/>
<circle cx="86.9" cy="434.6" r="3.85" fill="#ff6e6e"/>
<circle cx="76.1" cy="436.7" r="3.85" fill="#b48cff"/>
<circle cx="62.8" cy="449.2" r="3.85" fill="#ff6e6e"/>
<circle cx="65.2" cy="445.2" r="3.85" fill="#b48cff"/>
<circle cx="75.7" cy="443" r="3.85" fill="#1ec80f"/>
<circle cx="92.8" cy="445.9" r="3.85" fill="#ff55f0"/>
<circle cx="103.4" cy="444.7" r="3.85" fill="#ff6e6e"/>
<circle cx="97.2" cy="448.8" r="3.85" fill="#1ec80f"/>
<circle cx="119.9" cy="448.1" r="3.85" fill="#1ec80f"/>
<circle cx="72.3" cy="458.5" r="3.85" fill="#1ec80f"/>
<circle cx="85.9" cy="457.3" r="3.85" fill="#b48cff"/>
<circle cx="97.9" cy="456.8" r="3.85" fill="#b48cff"/>
<circle cx="143.9" cy="426.9" r="3.85" fill="#b48cff"/>
<circle cx="148.6" cy="431.8" r="3.85" fill="#ff6e6e"/>
<circle cx="170.1" cy="426.9" r="3.85" fill="#00c8ff"/>
<circle cx="216" cy="428.1" r="3.85" fill="#00c8ff"/>
<circle cx="135.2" cy="439.4" r="3.85" fill="#b48cff"/>
<circle cx="148.2" cy="446" r="3.85" fill="#b48cff"/>
<circle cx="212.2" cy="440.1" r="3.85" fill="#00c8ff"/>
<circle cx="160.5" cy="454.4" r="3.85" fill="#00c8ff"/>
<circle cx="132.2" cy="458.5" r="3.85" fill="#00c8ff"/>
<circle cx="138.2" cy="463.1" r="3.85" fill="#ff55f0"/>
<circle cx="147" cy="466.8" r="3.85" fill="#b48cff"/>
<circle cx="194.9" cy="463.5" r="3.85" fill="#00c8ff"/>
<circle cx="51.6" cy="470.1" r="3.85" fill="#1ec80f"/>
<circle cx="46.1" cy="473.1" r="3.85" fill="#ff55f0"/>
<circle cx="43.9" cy="475.5" r="3.85" fill="#ff6e6e"/>
<circle cx="48.5" cy="483.6" r="3.85" fill="#b48cff"/>
<circle cx="63.6" cy="479.6" r="3.85" fill="#ff6e6e"/>
<circle cx="61.4" cy="483.3" r="3.85" fill="#ff6e6e"/>
<circle cx="72.8" cy="484.3" r="3.85" fill="#1ec80f"/>
<circle cx="91.8" cy="473.6" r="3.85" fill="#b48cff"/>
<circle cx="111.3" cy="470.4" r="3.85" fill="#ff55f0"/>
<circle cx="112.6" cy="475.8" r="3.85" fill="#ff55f0"/>
<circle cx="110.3" cy="484.7" r="3.85" fill="#b48cff"/>
<circle cx="99.8" cy="494.2" r="3.85" fill="#ff6e6e"/>
<circle cx="90.7" cy="500.8" r="3.85" fill="#ff55f0"/>
<circle cx="100.5" cy="502.1" r="3.85" fill="#1ec80f"/>
<circle cx="109.6" cy="515.4" r="3.85" fill="#ff6e6e"/>
<circle cx="84.7" cy="532.6" r="3.85" fill="#1ec80f"/>
<circle cx="138.5" cy="480.1" r="3.85" fill="#00c8ff"/>
<circle cx="149.8" cy="481.1" r="3.85" fill="#1ec80f"/>
<circle cx="151.3" cy="494.5" r="3.85" fill="#b48cff"/>
<circle cx="164.8" cy="493.6" r="3.85" fill="#b48cff"/>
<circle cx="186.7" cy="500.4" r="3.85" fill="#00c8ff"/>
<circle cx="192.7" cy="499" r="3.85" fill="#00c8ff"/>
<rect x="33.6" y="381.7" width="190.9" height="157.50000000000006" fill="none" stroke="#8c8c8c" stroke-width="1"/>
<line x1="31.1" y1="412.20" x2="33.6" y2="412.20" stroke="#333" stroke-width="0.8"/>
<text x="26.00" y="414.90" font-size="7.6" fill="#333" text-anchor="end"  stroke="#333" stroke-width="0.22">20</text>
<line x1="31.1" y1="460.20" x2="33.6" y2="460.20" stroke="#333" stroke-width="0.8"/>
<text x="26.00" y="462.90" font-size="7.6" fill="#333" text-anchor="end"  stroke="#333" stroke-width="0.22">0</text>
<line x1="31.1" y1="508.20" x2="33.6" y2="508.20" stroke="#333" stroke-width="0.8"/>
<text x="26.00" y="510.90" font-size="7.6" fill="#333" text-anchor="end"  stroke="#333" stroke-width="0.22">−20</text>
<line x1="63.70" y1="539.2" x2="63.70" y2="541.7" stroke="#333" stroke-width="0.8"/>
<text x="63.70" y="552.80" font-size="7.6" fill="#333" text-anchor="middle"  stroke="#333" stroke-width="0.22">−20</text>
<line x1="111.40" y1="539.2" x2="111.40" y2="541.7" stroke="#333" stroke-width="0.8"/>
<text x="111.40" y="552.80" font-size="7.6" fill="#333" text-anchor="middle"  stroke="#333" stroke-width="0.22">0</text>
<line x1="159.10" y1="539.2" x2="159.10" y2="541.7" stroke="#333" stroke-width="0.8"/>
<text x="159.10" y="552.80" font-size="7.6" fill="#333" text-anchor="middle"  stroke="#333" stroke-width="0.22">20</text>
<line x1="206.80" y1="539.2" x2="206.80" y2="541.7" stroke="#333" stroke-width="0.8"/>
<text x="206.80" y="552.80" font-size="7.6" fill="#333" text-anchor="middle"  stroke="#333" stroke-width="0.22">40</text>
<text x="129.30" y="565.60" font-size="8.4" fill="#222" text-anchor="middle"  stroke="#222" stroke-width="0.22">PC1</text>
<text transform="translate(7.4,460.2) rotate(-90)" font-size="8.4" fill="#222" stroke="#222" stroke-width="0.22" text-anchor="middle">PC2</text>
<text x="157.00" y="576.60" font-size="7.6" fill="#222" text-anchor="start" textLength="33.3" lengthAdjust="spacingAndGlyphs"  stroke="#222" stroke-width="0.22">Condition</text>
<circle cx="163" cy="584.20" r="3.85" fill="#b48cff"/>
<text x="171.70" y="586.90" font-size="7.6" fill="#222" text-anchor="start"  stroke="#222" stroke-width="0.22">Mixed</text>
<circle cx="163" cy="595.38" r="3.85" fill="#ff6e6e"/>
<text x="171.70" y="598.08" font-size="7.6" fill="#222" text-anchor="start"  stroke="#222" stroke-width="0.22">Healthy</text>
<circle cx="163" cy="606.56" r="3.85" fill="#ff55f0"/>
<text x="171.7" y="609.26" font-size="7.6" fill="#222" stroke="#222" stroke-width="0.22">Goblet/AM<tspan font-size="4.6" dy="2">NR4A3</tspan></text>
<circle cx="163" cy="617.74" r="3.85" fill="#1ec80f"/>
<text x="171.70" y="620.44" font-size="7.6" fill="#222" text-anchor="start"  stroke="#222" stroke-width="0.22">Immune</text>
<circle cx="163" cy="628.92" r="3.85" fill="#00c8ff"/>
<text x="171.70" y="631.62" font-size="7.6" fill="#222" text-anchor="start"  stroke="#222" stroke-width="0.22">Inflammatory</text>
<text x="246.20" y="375.80" font-size="12" fill="#000" text-anchor="start" font-weight="bold" stroke="#000" stroke-width="0.6">c</text>
<text x="324.00" y="375.50" font-size="9" fill="#1a1a1a" text-anchor="start" textLength="264.3" lengthAdjust="spacingAndGlyphs"  stroke="#1a1a1a" stroke-width="0.1">WGCNA of aberrant cell states and plasma proteomics (Olink)</text>
<rect x="270.60" y="380.60" width="18.02" height="18.09" fill="#ffffff"/>
<rect x="288.32" y="380.60" width="18.02" height="18.09" fill="#f1f8ff"/>
<rect x="306.04" y="380.60" width="18.02" height="18.09" fill="#ffe7e0"/>
<rect x="323.76" y="380.60" width="18.02" height="18.09" fill="#dcedff"/>
<rect x="341.48" y="380.60" width="18.02" height="18.09" fill="#fff1ed"/>
<rect x="359.20" y="380.60" width="18.02" height="18.09" fill="#ffe7e0"/>
<rect x="376.91" y="380.60" width="18.02" height="18.09" fill="#ffffff"/>
<rect x="394.63" y="380.60" width="18.02" height="18.09" fill="#edf5ff"/>
<rect x="412.35" y="380.60" width="18.02" height="18.09" fill="#fff1ed"/>
<rect x="430.07" y="380.60" width="18.02" height="18.09" fill="#fff1ed"/>
<rect x="447.79" y="380.60" width="18.02" height="18.09" fill="#f6faff"/>
<rect x="465.51" y="380.60" width="18.02" height="18.09" fill="#ffe7e0"/>
<rect x="483.23" y="380.60" width="18.02" height="18.09" fill="#ffffff"/>
<rect x="500.95" y="380.60" width="18.02" height="18.09" fill="#fff7f5"/>
<rect x="518.67" y="380.60" width="18.02" height="18.09" fill="#ffffff"/>
<rect x="536.39" y="380.60" width="18.02" height="18.09" fill="#fff7f5"/>
<rect x="554.10" y="380.60" width="18.02" height="18.09" fill="#ffefeb"/>
<rect x="571.82" y="380.60" width="18.02" height="18.09" fill="#fff7f5"/>
<rect x="589.54" y="380.60" width="18.02" height="18.09" fill="#ffdad1"/>
<rect x="607.26" y="380.60" width="18.02" height="18.09" fill="#ffefeb"/>
<rect x="624.98" y="380.60" width="18.02" height="18.09" fill="#ffdad1"/>
<rect x="270.60" y="398.39" width="18.02" height="18.09" fill="#ffffff"/>
<rect x="288.32" y="398.39" width="18.02" height="18.09" fill="#e8f3ff"/>
<rect x="306.04" y="398.39" width="18.02" height="18.09" fill="#ffffff"/>
<rect x="323.76" y="398.39" width="18.02" height="18.09" fill="#f6faff"/>
<rect x="341.48" y="398.39" width="18.02" height="18.09" fill="#ffd6cc"/>
<rect x="359.20" y="398.39" width="18.02" height="18.09" fill="#ffccbf"/>
<rect x="376.91" y="398.39" width="18.02" height="18.09" fill="#ffaf9c"/>
<rect x="394.63" y="398.39" width="18.02" height="18.09" fill="#fff3f0"/>
<rect x="412.35" y="398.39" width="18.02" height="18.09" fill="#ffccbf"/>
<rect x="430.07" y="398.39" width="18.02" height="18.09" fill="#fff1ed"/>
<rect x="447.79" y="398.39" width="18.02" height="18.09" fill="#ffffff"/>
<rect x="465.51" y="398.39" width="18.02" height="18.09" fill="#ffd6cc"/>
<rect x="483.23" y="398.39" width="18.02" height="18.09" fill="#ffe7e0"/>
<rect x="500.95" y="398.39" width="18.02" height="18.09" fill="#ffccbf"/>
<rect x="518.67" y="398.39" width="18.02" height="18.09" fill="#ffffff"/>
<rect x="536.39" y="398.39" width="18.02" height="18.09" fill="#ffe7e0"/>
<rect x="554.10" y="398.39" width="18.02" height="18.09" fill="#ffe7e0"/>
<rect x="571.82" y="398.39" width="18.02" height="18.09" fill="#ffe7e0"/>
<rect x="589.54" y="398.39" width="18.02" height="18.09" fill="#ffffff"/>
<rect x="607.26" y="398.39" width="18.02" height="18.09" fill="#ffffff"/>
<rect x="624.98" y="398.39" width="18.02" height="18.09" fill="#ffefeb"/>
<rect x="270.60" y="416.18" width="18.02" height="18.09" fill="#edf5ff"/>
<rect x="288.32" y="416.18" width="18.02" height="18.09" fill="#edf5ff"/>
<rect x="306.04" y="416.18" width="18.02" height="18.09" fill="#f6faff"/>
<rect x="323.76" y="416.18" width="18.02" height="18.09" fill="#dcedff"/>
<rect x="341.48" y="416.18" width="18.02" height="18.09" fill="#ffe7e0"/>
<rect x="359.20" y="416.18" width="18.02" height="18.09" fill="#ffdad1"/>
<rect x="376.91" y="416.18" width="18.02" height="18.09" fill="#ff8d70"/>
<rect x="394.63" y="416.18" width="18.02" height="18.09" fill="#fff1ed"/>
<rect x="412.35" y="416.18" width="18.02" height="18.09" fill="#ff9980"/>
<rect x="430.07" y="416.18" width="18.02" height="18.09" fill="#ffe7e0"/>
<rect x="447.79" y="416.18" width="18.02" height="18.09" fill="#ffefeb"/>
<rect x="465.51" y="416.18" width="18.02" height="18.09" fill="#ffd2c7"/>
<rect x="483.23" y="416.18" width="18.02" height="18.09" fill="#ffd2c7"/>
<rect x="500.95" y="416.18" width="18.02" height="18.09" fill="#ffccbf"/>
<rect x="518.67" y="416.18" width="18.02" height="18.09" fill="#ffefeb"/>
<rect x="536.39" y="416.18" width="18.02" height="18.09" fill="#ffefeb"/>
<rect x="554.10" y="416.18" width="18.02" height="18.09" fill="#ffefeb"/>
<rect x="571.82" y="416.18" width="18.02" height="18.09" fill="#ffd6cc"/>
<rect x="589.54" y="416.18" width="18.02" height="18.09" fill="#ffefeb"/>
<rect x="607.26" y="416.18" width="18.02" height="18.09" fill="#ffe7e0"/>
<rect x="624.98" y="416.18" width="18.02" height="18.09" fill="#ffe7e0"/>
<rect x="270.60" y="433.98" width="18.02" height="18.09" fill="#ffc6b8"/>
<rect x="288.32" y="433.98" width="18.02" height="18.09" fill="#ffc6b8"/>
<rect x="306.04" y="433.98" width="18.02" height="18.09" fill="#fff5f2"/>
<rect x="323.76" y="433.98" width="18.02" height="18.09" fill="#aed5ff"/>
<rect x="341.48" y="433.98" width="18.02" height="18.09" fill="#d1e7ff"/>
<rect x="359.20" y="433.98" width="18.02" height="18.09" fill="#fff1ed"/>
<rect x="376.91" y="433.98" width="18.02" height="18.09" fill="#ffebe6"/>
<rect x="394.63" y="433.98" width="18.02" height="18.09" fill="#dcedff"/>
<rect x="412.35" y="433.98" width="18.02" height="18.09" fill="#fff1ed"/>
<rect x="430.07" y="433.98" width="18.02" height="18.09" fill="#ffffff"/>
<rect x="447.79" y="433.98" width="18.02" height="18.09" fill="#f6faff"/>
<rect x="465.51" y="433.98" width="18.02" height="18.09" fill="#fff1ed"/>
<rect x="483.23" y="433.98" width="18.02" height="18.09" fill="#f6faff"/>
<rect x="500.95" y="433.98" width="18.02" height="18.09" fill="#ffdad1"/>
<rect x="518.67" y="433.98" width="18.02" height="18.09" fill="#ffe7e0"/>
<rect x="536.39" y="433.98" width="18.02" height="18.09" fill="#ffe7e0"/>
<rect x="554.10" y="433.98" width="18.02" height="18.09" fill="#ffffff"/>
<rect x="571.82" y="433.98" width="18.02" height="18.09" fill="#ffefeb"/>
<rect x="589.54" y="433.98" width="18.02" height="18.09" fill="#ffe0d9"/>
<rect x="607.26" y="433.98" width="18.02" height="18.09" fill="#ffffff"/>
<rect x="624.98" y="433.98" width="18.02" height="18.09" fill="#f6faff"/>
<rect x="270.60" y="451.77" width="18.02" height="18.09" fill="#fff9f7"/>
<rect x="288.32" y="451.77" width="18.02" height="18.09" fill="#ffffff"/>
<rect x="306.04" y="451.77" width="18.02" height="18.09" fill="#dcedff"/>
<rect x="323.76" y="451.77" width="18.02" height="18.09" fill="#ffd6cc"/>
<rect x="341.48" y="451.77" width="18.02" height="18.09" fill="#f6faff"/>
<rect x="359.20" y="451.77" width="18.02" height="18.09" fill="#ffe7e0"/>
<rect x="376.91" y="451.77" width="18.02" height="18.09" fill="#ffe0d9"/>
<rect x="394.63" y="451.77" width="18.02" height="18.09" fill="#ffffff"/>
<rect x="412.35" y="451.77" width="18.02" height="18.09" fill="#fff1ed"/>
<rect x="430.07" y="451.77" width="18.02" height="18.09" fill="#f6faff"/>
<rect x="447.79" y="451.77" width="18.02" height="18.09" fill="#ffffff"/>
<rect x="465.51" y="451.77" width="18.02" height="18.09" fill="#fff1ed"/>
<rect x="483.23" y="451.77" width="18.02" height="18.09" fill="#fff7f5"/>
<rect x="500.95" y="451.77" width="18.02" height="18.09" fill="#ffb19e"/>
<rect x="518.67" y="451.77" width="18.02" height="18.09" fill="#ffffff"/>
<rect x="536.39" y="451.77" width="18.02" height="18.09" fill="#ffffff"/>
<rect x="554.10" y="451.77" width="18.02" height="18.09" fill="#ffe7e0"/>
<rect x="571.82" y="451.77" width="18.02" height="18.09" fill="#ffefeb"/>
<rect x="589.54" y="451.77" width="18.02" height="18.09" fill="#ffd6cc"/>
<rect x="607.26" y="451.77" width="18.02" height="18.09" fill="#ffffff"/>
<rect x="624.98" y="451.77" width="18.02" height="18.09" fill="#d1e7ff"/>
<rect x="270.60" y="469.56" width="18.02" height="18.09" fill="#ffffff"/>
<rect x="288.32" y="469.56" width="18.02" height="18.09" fill="#f6faff"/>
<rect x="306.04" y="469.56" width="18.02" height="18.09" fill="#fff7f5"/>
<rect x="323.76" y="469.56" width="18.02" height="18.09" fill="#fff3f0"/>
<rect x="341.48" y="469.56" width="18.02" height="18.09" fill="#f6faff"/>
<rect x="359.20" y="469.56" width="18.02" height="18.09" fill="#ffffff"/>
<rect x="376.91" y="469.56" width="18.02" height="18.09" fill="#fff7f5"/>
<rect x="394.63" y="469.56" width="18.02" height="18.09" fill="#ffebe6"/>
<rect x="412.35" y="469.56" width="18.02" height="18.09" fill="#ffe0d9"/>
<rect x="430.07" y="469.56" width="18.02" height="18.09" fill="#fff7f5"/>
<rect x="447.79" y="469.56" width="18.02" height="18.09" fill="#ffffff"/>
<rect x="465.51" y="469.56" width="18.02" height="18.09" fill="#ffd2c7"/>
<rect x="483.23" y="469.56" width="18.02" height="18.09" fill="#ffffff"/>
<rect x="500.95" y="469.56" width="18.02" height="18.09" fill="#ffe7e0"/>
<rect x="518.67" y="469.56" width="18.02" height="18.09" fill="#ffffff"/>
<rect x="536.39" y="469.56" width="18.02" height="18.09" fill="#ffefeb"/>
<rect x="554.10" y="469.56" width="18.02" height="18.09" fill="#ffefeb"/>
<rect x="571.82" y="469.56" width="18.02" height="18.09" fill="#ffffff"/>
<rect x="589.54" y="469.56" width="18.02" height="18.09" fill="#ffd6cc"/>
<rect x="607.26" y="469.56" width="18.02" height="18.09" fill="#e8f3ff"/>
<rect x="624.98" y="469.56" width="18.02" height="18.09" fill="#ffffff"/>
<rect x="270.60" y="487.35" width="18.02" height="18.09" fill="#ffaf9c"/>
<rect x="288.32" y="487.35" width="18.02" height="18.09" fill="#ffb8a6"/>
<rect x="306.04" y="487.35" width="18.02" height="18.09" fill="#ffccbf"/>
<rect x="323.76" y="487.35" width="18.02" height="18.09" fill="#aed5ff"/>
<rect x="341.48" y="487.35" width="18.02" height="18.09" fill="#d1e7ff"/>
<rect x="359.20" y="487.35" width="18.02" height="18.09" fill="#ffefeb"/>
<rect x="376.91" y="487.35" width="18.02" height="18.09" fill="#ffffff"/>
<rect x="394.63" y="487.35" width="18.02" height="18.09" fill="#d1e7ff"/>
<rect x="412.35" y="487.35" width="18.02" height="18.09" fill="#ffffff"/>
<rect x="430.07" y="487.35" width="18.02" height="18.09" fill="#ffffff"/>
<rect x="447.79" y="487.35" width="18.02" height="18.09" fill="#ffffff"/>
<rect x="465.51" y="487.35" width="18.02" height="18.09" fill="#ffffff"/>
<rect x="483.23" y="487.35" width="18.02" height="18.09" fill="#eff7ff"/>
<rect x="500.95" y="487.35" width="18.02" height="18.09" fill="#ffffff"/>
<rect x="518.67" y="487.35" width="18.02" height="18.09" fill="#ffe7e0"/>
<rect x="536.39" y="487.35" width="18.02" height="18.09" fill="#ffe0d9"/>
<rect x="554.10" y="487.35" width="18.02" height="18.09" fill="#f8fbff"/>
<rect x="571.82" y="487.35" width="18.02" height="18.09" fill="#ffefeb"/>
<rect x="589.54" y="487.35" width="18.02" height="18.09" fill="#fff7f5"/>
<rect x="607.26" y="487.35" width="18.02" height="18.09" fill="#ffffff"/>
<rect x="624.98" y="487.35" width="18.02" height="18.09" fill="#ffffff"/>
<rect x="270.60" y="505.14" width="18.02" height="18.09" fill="#ffebe6"/>
<rect x="288.32" y="505.14" width="18.02" height="18.09" fill="#fff5f2"/>
<rect x="306.04" y="505.14" width="18.02" height="18.09" fill="#ffd2c7"/>
<rect x="323.76" y="505.14" width="18.02" height="18.09" fill="#edf5ff"/>
<rect x="341.48" y="505.14" width="18.02" height="18.09" fill="#edf5ff"/>
<rect x="359.20" y="505.14" width="18.02" height="18.09" fill="#fff5f2"/>
<rect x="376.91" y="505.14" width="18.02" height="18.09" fill="#d1e7ff"/>
<rect x="394.63" y="505.14" width="18.02" height="18.09" fill="#e8f3ff"/>
<rect x="412.35" y="505.14" width="18.02" height="18.09" fill="#ffffff"/>
<rect x="430.07" y="505.14" width="18.02" height="18.09" fill="#fff1ed"/>
<rect x="447.79" y="505.14" width="18.02" height="18.09" fill="#fff7f5"/>
<rect x="465.51" y="505.14" width="18.02" height="18.09" fill="#fff7f5"/>
<rect x="483.23" y="505.14" width="18.02" height="18.09" fill="#ffffff"/>
<rect x="500.95" y="505.14" width="18.02" height="18.09" fill="#ffffff"/>
<rect x="518.67" y="505.14" width="18.02" height="18.09" fill="#ffe7e0"/>
<rect x="536.39" y="505.14" width="18.02" height="18.09" fill="#ffd2c7"/>
<rect x="554.10" y="505.14" width="18.02" height="18.09" fill="#ffffff"/>
<rect x="571.82" y="505.14" width="18.02" height="18.09" fill="#ffefeb"/>
<rect x="589.54" y="505.14" width="18.02" height="18.09" fill="#ffebe6"/>
<rect x="607.26" y="505.14" width="18.02" height="18.09" fill="#ffefeb"/>
<rect x="624.98" y="505.14" width="18.02" height="18.09" fill="#fff7f5"/>
<rect x="270.60" y="522.93" width="18.02" height="18.09" fill="#f6faff"/>
<rect x="288.32" y="522.93" width="18.02" height="18.09" fill="#e8f3ff"/>
<rect x="306.04" y="522.93" width="18.02" height="18.09" fill="#ffffff"/>
<rect x="323.76" y="522.93" width="18.02" height="18.09" fill="#ffffff"/>
<rect x="341.48" y="522.93" width="18.02" height="18.09" fill="#eff7ff"/>
<rect x="359.20" y="522.93" width="18.02" height="18.09" fill="#ffffff"/>
<rect x="376.91" y="522.93" width="18.02" height="18.09" fill="#f6faff"/>
<rect x="394.63" y="522.93" width="18.02" height="18.09" fill="#dcedff"/>
<rect x="412.35" y="522.93" width="18.02" height="18.09" fill="#fff1ed"/>
<rect x="430.07" y="522.93" width="18.02" height="18.09" fill="#fff9f7"/>
<rect x="447.79" y="522.93" width="18.02" height="18.09" fill="#fff3f0"/>
<rect x="465.51" y="522.93" width="18.02" height="18.09" fill="#fff3f0"/>
<rect x="483.23" y="522.93" width="18.02" height="18.09" fill="#fff3f0"/>
<rect x="500.95" y="522.93" width="18.02" height="18.09" fill="#fff7f5"/>
<rect x="518.67" y="522.93" width="18.02" height="18.09" fill="#ffe7e0"/>
<rect x="536.39" y="522.93" width="18.02" height="18.09" fill="#ffccbf"/>
<rect x="554.10" y="522.93" width="18.02" height="18.09" fill="#ffffff"/>
<rect x="571.82" y="522.93" width="18.02" height="18.09" fill="#ffffff"/>
<rect x="589.54" y="522.93" width="18.02" height="18.09" fill="#fff9f7"/>
<rect x="607.26" y="522.93" width="18.02" height="18.09" fill="#ffefeb"/>
<rect x="624.98" y="522.93" width="18.02" height="18.09" fill="#ffe7e0"/>
<rect x="270.60" y="540.73" width="18.02" height="18.09" fill="#dcedff"/>
<rect x="288.32" y="540.73" width="18.02" height="18.09" fill="#d1e7ff"/>
<rect x="306.04" y="540.73" width="18.02" height="18.09" fill="#e3f1ff"/>
<rect x="323.76" y="540.73" width="18.02" height="18.09" fill="#e3f1ff"/>
<rect x="341.48" y="540.73" width="18.02" height="18.09" fill="#ffffff"/>
<rect x="359.20" y="540.73" width="18.02" height="18.09" fill="#edf5ff"/>
<rect x="376.91" y="540.73" width="18.02" height="18.09" fill="#ffebe6"/>
<rect x="394.63" y="540.73" width="18.02" height="18.09" fill="#fff7f5"/>
<rect x="412.35" y="540.73" width="18.02" height="18.09" fill="#ffa58f"/>
<rect x="430.07" y="540.73" width="18.02" height="18.09" fill="#ffc2b2"/>
<rect x="447.79" y="540.73" width="18.02" height="18.09" fill="#ffc2b2"/>
<rect x="465.51" y="540.73" width="18.02" height="18.09" fill="#ffc2b2"/>
<rect x="483.23" y="540.73" width="18.02" height="18.09" fill="#ffc6b8"/>
<rect x="500.95" y="540.73" width="18.02" height="18.09" fill="#ffd6cc"/>
<rect x="518.67" y="540.73" width="18.02" height="18.09" fill="#ffdad1"/>
<rect x="536.39" y="540.73" width="18.02" height="18.09" fill="#ffd2c7"/>
<rect x="554.10" y="540.73" width="18.02" height="18.09" fill="#ffe0d9"/>
<rect x="571.82" y="540.73" width="18.02" height="18.09" fill="#ffc2b2"/>
<rect x="589.54" y="540.73" width="18.02" height="18.09" fill="#ffe0d9"/>
<rect x="607.26" y="540.73" width="18.02" height="18.09" fill="#ffe7e0"/>
<rect x="624.98" y="540.73" width="18.02" height="18.09" fill="#ffefeb"/>
<rect x="270.60" y="558.52" width="18.02" height="18.09" fill="#e8f3ff"/>
<rect x="288.32" y="558.52" width="18.02" height="18.09" fill="#f6faff"/>
<rect x="306.04" y="558.52" width="18.02" height="18.09" fill="#f6faff"/>
<rect x="323.76" y="558.52" width="18.02" height="18.09" fill="#e8f3ff"/>
<rect x="341.48" y="558.52" width="18.02" height="18.09" fill="#e8f3ff"/>
<rect x="359.20" y="558.52" width="18.02" height="18.09" fill="#eff7ff"/>
<rect x="376.91" y="558.52" width="18.02" height="18.09" fill="#ffebe6"/>
<rect x="394.63" y="558.52" width="18.02" height="18.09" fill="#ffebe6"/>
<rect x="412.35" y="558.52" width="18.02" height="18.09" fill="#ffb19e"/>
<rect x="430.07" y="558.52" width="18.02" height="18.09" fill="#ffbcab"/>
<rect x="447.79" y="558.52" width="18.02" height="18.09" fill="#ffc6b8"/>
<rect x="465.51" y="558.52" width="18.02" height="18.09" fill="#ffb8a6"/>
<rect x="483.23" y="558.52" width="18.02" height="18.09" fill="#ffc2b2"/>
<rect x="500.95" y="558.52" width="18.02" height="18.09" fill="#fff3f0"/>
<rect x="518.67" y="558.52" width="18.02" height="18.09" fill="#fff7f5"/>
<rect x="536.39" y="558.52" width="18.02" height="18.09" fill="#fff7f5"/>
<rect x="554.10" y="558.52" width="18.02" height="18.09" fill="#ffccbf"/>
<rect x="571.82" y="558.52" width="18.02" height="18.09" fill="#ffa58f"/>
<rect x="589.54" y="558.52" width="18.02" height="18.09" fill="#ffefeb"/>
<rect x="607.26" y="558.52" width="18.02" height="18.09" fill="#fff9f7"/>
<rect x="624.98" y="558.52" width="18.02" height="18.09" fill="#ffffff"/>
<rect x="270.60" y="576.31" width="18.02" height="18.09" fill="#cce5ff"/>
<rect x="288.32" y="576.31" width="18.02" height="18.09" fill="#dcedff"/>
<rect x="306.04" y="576.31" width="18.02" height="18.09" fill="#e8f3ff"/>
<rect x="323.76" y="576.31" width="18.02" height="18.09" fill="#f6faff"/>
<rect x="341.48" y="576.31" width="18.02" height="18.09" fill="#ffffff"/>
<rect x="359.20" y="576.31" width="18.02" height="18.09" fill="#ffffff"/>
<rect x="376.91" y="576.31" width="18.02" height="18.09" fill="#ffffff"/>
<rect x="394.63" y="576.31" width="18.02" height="18.09" fill="#f6faff"/>
<rect x="412.35" y="576.31" width="18.02" height="18.09" fill="#ffab96"/>
<rect x="430.07" y="576.31" width="18.02" height="18.09" fill="#ffb8a6"/>
<rect x="447.79" y="576.31" width="18.02" height="18.09" fill="#ffc6b8"/>
<rect x="465.51" y="576.31" width="18.02" height="18.09" fill="#ffa994"/>
<rect x="483.23" y="576.31" width="18.02" height="18.09" fill="#ffccbf"/>
<rect x="500.95" y="576.31" width="18.02" height="18.09" fill="#ffefeb"/>
<rect x="518.67" y="576.31" width="18.02" height="18.09" fill="#fff1ed"/>
<rect x="536.39" y="576.31" width="18.02" height="18.09" fill="#ffebe6"/>
<rect x="554.10" y="576.31" width="18.02" height="18.09" fill="#ffdad1"/>
<rect x="571.82" y="576.31" width="18.02" height="18.09" fill="#ffb8a6"/>
<rect x="589.54" y="576.31" width="18.02" height="18.09" fill="#ffccbf"/>
<rect x="607.26" y="576.31" width="18.02" height="18.09" fill="#ffe7e0"/>
<rect x="624.98" y="576.31" width="18.02" height="18.09" fill="#fff7f5"/>
<text x="385.77" y="405.79" font-size="4.6" fill="#1a1a1a" text-anchor="middle">0.39</text>
<text x="385.77" y="412.39" font-size="4.6" fill="#1a1a1a" text-anchor="middle">(0.04)</text>
<text x="385.77" y="423.59" font-size="4.6" fill="#1a1a1a" text-anchor="middle">0.56</text>
<text x="385.77" y="430.19" font-size="4.6" fill="#1a1a1a" text-anchor="middle">(4×10<tspan font-size="3.2" dy="-1.6">−4</tspan><tspan dy="1.6">)</tspan></text>
<text x="421.21" y="423.59" font-size="4.6" fill="#1a1a1a" text-anchor="middle">0.5</text>
<text x="421.21" y="430.19" font-size="4.6" fill="#1a1a1a" text-anchor="middle">(0.005)</text>
<text x="509.81" y="459.17" font-size="4.6" fill="#1a1a1a" text-anchor="middle">0.38</text>
<text x="509.81" y="465.77" font-size="4.6" fill="#1a1a1a" text-anchor="middle">(0.05)</text>
<text x="279.46" y="494.75" font-size="4.6" fill="#1a1a1a" text-anchor="middle">0.39</text>
<text x="279.46" y="501.35" font-size="4.6" fill="#1a1a1a" text-anchor="middle">(0.04)</text>
<text x="421.21" y="548.13" font-size="4.6" fill="#1a1a1a" text-anchor="middle">0.44</text>
<text x="421.21" y="554.73" font-size="4.6" fill="#1a1a1a" text-anchor="middle">(0.02)</text>
<text x="421.21" y="565.92" font-size="4.6" fill="#1a1a1a" text-anchor="middle">0.38</text>
<text x="421.21" y="572.52" font-size="4.6" fill="#1a1a1a" text-anchor="middle">(0.04)</text>
<text x="580.68" y="565.92" font-size="4.6" fill="#1a1a1a" text-anchor="middle">0.44</text>
<text x="580.68" y="572.52" font-size="4.6" fill="#1a1a1a" text-anchor="middle">(0.02)</text>
<text x="421.21" y="583.71" font-size="4.6" fill="#1a1a1a" text-anchor="middle">0.41</text>
<text x="421.21" y="590.31" font-size="4.6" fill="#1a1a1a" text-anchor="middle">(0.04)</text>
<text x="474.37" y="583.71" font-size="4.6" fill="#1a1a1a" text-anchor="middle">0.42</text>
<text x="474.37" y="590.31" font-size="4.6" fill="#1a1a1a" text-anchor="middle">(0.03)</text>
<rect x="271.35" y="380.50" width="371.95" height="213.60" fill="none" stroke="#8a8a8a" stroke-width="1"/>
<text x="266.80" y="392.95" font-size="8.8" fill="#1a1a1a" text-anchor="end" textLength="16.83" lengthAdjust="spacingAndGlyphs"  stroke="#1a1a1a" stroke-width="0.1">ME4</text>
<text x="266.80" y="410.74" font-size="8.8" fill="#1a1a1a" text-anchor="end" textLength="16.83" lengthAdjust="spacingAndGlyphs"  stroke="#1a1a1a" stroke-width="0.1">ME1</text>
<text x="266.80" y="428.53" font-size="8.8" fill="#1a1a1a" text-anchor="end" textLength="16.83" lengthAdjust="spacingAndGlyphs"  stroke="#1a1a1a" stroke-width="0.1">ME2</text>
<text x="266.80" y="446.32" font-size="8.8" fill="#1a1a1a" text-anchor="end" textLength="16.83" lengthAdjust="spacingAndGlyphs"  stroke="#1a1a1a" stroke-width="0.1">ME7</text>
<text x="266.80" y="464.11" font-size="8.8" fill="#1a1a1a" text-anchor="end" textLength="21.38" lengthAdjust="spacingAndGlyphs"  stroke="#1a1a1a" stroke-width="0.1">ME10</text>
<text x="266.80" y="481.90" font-size="8.8" fill="#1a1a1a" text-anchor="end" textLength="16.83" lengthAdjust="spacingAndGlyphs"  stroke="#1a1a1a" stroke-width="0.1">ME9</text>
<text x="266.80" y="499.70" font-size="8.8" fill="#1a1a1a" text-anchor="end" textLength="16.83" lengthAdjust="spacingAndGlyphs"  stroke="#1a1a1a" stroke-width="0.1">ME3</text>
<text x="266.80" y="517.49" font-size="8.8" fill="#1a1a1a" text-anchor="end" textLength="16.83" lengthAdjust="spacingAndGlyphs"  stroke="#1a1a1a" stroke-width="0.1">ME6</text>
<text x="266.80" y="535.28" font-size="8.8" fill="#1a1a1a" text-anchor="end" textLength="20.77" lengthAdjust="spacingAndGlyphs"  stroke="#1a1a1a" stroke-width="0.1">ME11</text>
<text x="266.80" y="553.07" font-size="8.8" fill="#1a1a1a" text-anchor="end" textLength="16.83" lengthAdjust="spacingAndGlyphs"  stroke="#1a1a1a" stroke-width="0.1">ME5</text>
<text x="266.80" y="570.86" font-size="8.8" fill="#1a1a1a" text-anchor="end" textLength="16.83" lengthAdjust="spacingAndGlyphs"  stroke="#1a1a1a" stroke-width="0.1">ME8</text>
<text x="266.80" y="588.65" font-size="8.8" fill="#1a1a1a" text-anchor="end" textLength="16.83" lengthAdjust="spacingAndGlyphs"  stroke="#1a1a1a" stroke-width="0.1">ME0</text>
<text transform="translate(281.86,601.00) rotate(-45)" font-size="7.5" fill="#1a1a1a" stroke="#1a1a1a" stroke-width="0.18" text-anchor="end">FEV<tspan font-size="5.10" dy="2.55">1</tspan></text>
<text transform="translate(299.58,601.00) rotate(-45)" font-size="7.5" fill="#1a1a1a" stroke="#1a1a1a" stroke-width="0.18" text-anchor="end">FEV<tspan font-size="5.10" dy="2.55">1</tspan><tspan dy="-2.55">/FVC</tspan></text>
<text transform="translate(317.30,601.00) rotate(-45)" font-size="7.5" fill="#1a1a1a" stroke="#1a1a1a" stroke-width="0.18" text-anchor="end">DLCO</text>
<text transform="translate(335.02,601.00) rotate(-45)" font-size="7.5" fill="#1a1a1a" stroke="#1a1a1a" stroke-width="0.18" text-anchor="end">Emphysema</text>
<text transform="translate(352.74,601.00) rotate(-45)" font-size="7.5" fill="#1a1a1a" stroke="#1a1a1a" stroke-width="0.18" text-anchor="end">Symptoms</text>
<text transform="translate(370.45,601.00) rotate(-45)" font-size="7.5" fill="#1a1a1a" stroke="#1a1a1a" stroke-width="0.18" text-anchor="end">Pack years</text>
<text transform="translate(388.17,601.00) rotate(-45)" font-size="7.5" fill="#1a1a1a" stroke="#1a1a1a" stroke-width="0.18" text-anchor="end">Artery<tspan font-size="5.10" dy="2.55">1</tspan></text>
<text transform="translate(405.89,601.00) rotate(-45)" font-size="7.5" fill="#1a1a1a" stroke="#1a1a1a" stroke-width="0.18" text-anchor="end">Aerocyte<tspan font-size="5.10" dy="2.55">1</tspan></text>
<text transform="translate(423.61,601.00) rotate(-45)" font-size="7.5" fill="#1a1a1a" stroke="#1a1a1a" stroke-width="0.18" text-anchor="end">gCap<tspan font-size="5.10" dy="2.55">1</tspan></text>
<text transform="translate(441.33,601.00) rotate(-45)" font-size="7.5" fill="#1a1a1a" stroke="#1a1a1a" stroke-width="0.18" text-anchor="end">AT2<tspan font-size="5.10" dy="2.55">1</tspan></text>
<text transform="translate(459.05,601.00) rotate(-45)" font-size="7.5" fill="#1a1a1a" stroke="#1a1a1a" stroke-width="0.18" text-anchor="end">AT1<tspan font-size="5.10" dy="2.55">1</tspan></text>
<text transform="translate(476.77,601.00) rotate(-45)" font-size="7.5" fill="#1a1a1a" stroke="#1a1a1a" stroke-width="0.18" text-anchor="end">Secretory<tspan font-size="5.10" dy="2.55">1</tspan></text>
<text transform="translate(494.49,601.00) rotate(-45)" font-size="7.5" fill="#1a1a1a" stroke="#1a1a1a" stroke-width="0.18" text-anchor="end">Alv. fibroblast<tspan font-size="5.10" dy="2.55">1</tspan></text>
<text transform="translate(512.21,601.00) rotate(-45)" font-size="7.5" fill="#1a1a1a" stroke="#1a1a1a" stroke-width="0.18" text-anchor="end">Adv. fibroblast<tspan font-size="5.10" dy="2.55">1</tspan></text>
<text transform="translate(529.93,601.00) rotate(-45)" font-size="7.5" fill="#1a1a1a" stroke="#1a1a1a" stroke-width="0.18" text-anchor="end">ABC</text>
<text transform="translate(547.65,601.00) rotate(-45)" font-size="7.5" fill="#1a1a1a" stroke="#1a1a1a" stroke-width="0.18" text-anchor="end">CTHRC1 fibroblast</text>
<text transform="translate(565.36,601.00) rotate(-45)" font-size="7.5" fill="#1a1a1a" stroke="#1a1a1a" stroke-width="0.18" text-anchor="end">AM<tspan font-size="5.10" dy="2.55">CSF</tspan></text>
<text transform="translate(583.08,601.00) rotate(-45)" font-size="7.5" fill="#1a1a1a" stroke="#1a1a1a" stroke-width="0.18" text-anchor="end">AM<tspan font-size="5.10" dy="2.55">inflam</tspan></text>
<text transform="translate(600.80,601.00) rotate(-45)" font-size="7.5" fill="#1a1a1a" stroke="#1a1a1a" stroke-width="0.18" text-anchor="end">AM<tspan font-size="5.10" dy="2.55">NR4A</tspan></text>
<text transform="translate(618.52,601.00) rotate(-45)" font-size="7.5" fill="#1a1a1a" stroke="#1a1a1a" stroke-width="0.18" text-anchor="end">IM<tspan font-size="5.10" dy="2.55">1</tspan></text>
<text transform="translate(636.24,601.00) rotate(-45)" font-size="7.5" fill="#1a1a1a" stroke="#1a1a1a" stroke-width="0.18" text-anchor="end">IM<tspan font-size="5.10" dy="2.55">CHIT</tspan></text>
<defs><linearGradient id="cb387" x1="0" y1="0" x2="0" y2="1"><stop offset="0" stop-color="#ff3300"/><stop offset="0.5" stop-color="#ffffff"/><stop offset="1" stop-color="#1987ff"/></linearGradient></defs>
<rect x="654.7" y="387.2" width="7.699999999999932" height="199.8" fill="url(#cb387)" stroke="#444" stroke-width="0.8"/>
<line x1="662.4" y1="387.20" x2="666.4" y2="387.20" stroke="#999" stroke-width="0.8"/>
<text x="669.60" y="389.90" font-size="7.5" fill="#333" text-anchor="start"  stroke="#333" stroke-width="0.22">1</text>
<line x1="662.4" y1="437.15" x2="666.4" y2="437.15" stroke="#999" stroke-width="0.8"/>
<text x="669.60" y="439.85" font-size="7.5" fill="#333" text-anchor="start"  stroke="#333" stroke-width="0.22">0.5</text>
<line x1="662.4" y1="487.10" x2="666.4" y2="487.10" stroke="#999" stroke-width="0.8"/>
<text x="669.60" y="489.80" font-size="7.5" fill="#333" text-anchor="start"  stroke="#333" stroke-width="0.22">0</text>
<line x1="662.4" y1="537.05" x2="666.4" y2="537.05" stroke="#999" stroke-width="0.8"/>
<text x="669.60" y="539.75" font-size="7.5" fill="#333" text-anchor="start"  stroke="#333" stroke-width="0.22">−0.5</text>
<line x1="662.4" y1="587.00" x2="666.4" y2="587.00" stroke="#999" stroke-width="0.8"/>
<text x="669.60" y="589.70" font-size="7.5" fill="#333" text-anchor="start"  stroke="#333" stroke-width="0.22">−1</text>
<text x="0.40" y="669.30" font-size="12" fill="#000" text-anchor="start" font-weight="bold" stroke="#000" stroke-width="0.6">d</text>
<line x1="192.70" y1="665.5" x2="192.70" y2="830.3" stroke="#ebebeb" stroke-width="1"/>
<line x1="215.45" y1="665.5" x2="215.45" y2="830.3" stroke="#ebebeb" stroke-width="1"/>
<line x1="238.20" y1="665.5" x2="238.20" y2="830.3" stroke="#ebebeb" stroke-width="1"/>
<line x1="260.95" y1="665.5" x2="260.95" y2="830.3" stroke="#ebebeb" stroke-width="1"/>
<line x1="283.70" y1="665.5" x2="283.70" y2="830.3" stroke="#ebebeb" stroke-width="1"/>
<text x="2.90" y="681.35" font-size="9.1" fill="#222" text-anchor="start" textLength="167.6" lengthAdjust="spacingAndGlyphs"  stroke="#222" stroke-width="0.22">C-type lectin receptor signaling pathway</text>
<circle cx="285.1" cy="677.90" r="3.8" fill="#00aeef"/>
<text x="77.70" y="701.28" font-size="9.1" fill="#222" text-anchor="start" textLength="92.8" lengthAdjust="spacingAndGlyphs"  stroke="#222" stroke-width="0.22">TNF signaling pathway</text>
<circle cx="227.1" cy="697.83" r="3.8" fill="#00aeef"/>
<text x="71.50" y="721.21" font-size="9.1" fill="#222" text-anchor="start" textLength="99.0" lengthAdjust="spacingAndGlyphs"  stroke="#222" stroke-width="0.22">FoxO signaling pathway</text>
<circle cx="220.2" cy="717.76" r="3.8" fill="#00aeef"/>
<text x="38.80" y="741.14" font-size="9.1" fill="#222" text-anchor="start" textLength="131.7" lengthAdjust="spacingAndGlyphs"  stroke="#222" stroke-width="0.22">Neurotrophin signaling pathway</text>
<circle cx="216.1" cy="737.69" r="3.8" fill="#00aeef"/>
<text x="32.70" y="761.07" font-size="9.1" fill="#222" text-anchor="start" textLength="137.8" lengthAdjust="spacingAndGlyphs"  stroke="#222" stroke-width="0.22">B cell receptor signaling pathway</text>
<circle cx="202.2" cy="757.62" r="3.8" fill="#00aeef"/>
<text x="33.90" y="781.00" font-size="9.1" fill="#222" text-anchor="start" textLength="136.6" lengthAdjust="spacingAndGlyphs"  stroke="#222" stroke-width="0.22">T cell receptor signaling pathway</text>
<circle cx="183.1" cy="777.55" r="3.8" fill="#00aeef"/>
<text x="48.70" y="800.93" font-size="9.1" fill="#222" text-anchor="start" textLength="121.8" lengthAdjust="spacingAndGlyphs"  stroke="#222" stroke-width="0.22">Longevity regulating pathway</text>
<circle cx="182.7" cy="797.48" r="3.8" fill="#00aeef"/>
<text x="73.60" y="820.86" font-size="9.1" fill="#222" text-anchor="start" textLength="94.3" lengthAdjust="spacingAndGlyphs"  stroke="#222" stroke-width="0.22">IL-17 signaling pathway</text>
<circle cx="176.0" cy="817.41" r="3.8" fill="#00aeef"/>
<text x="192.70" y="839.20" font-size="7.3" fill="#333" text-anchor="middle"  stroke="#333" stroke-width="0.22">4</text>
<text x="215.45" y="839.20" font-size="7.3" fill="#333" text-anchor="middle"  stroke="#333" stroke-width="0.22">5</text>
<text x="238.20" y="839.20" font-size="7.3" fill="#333" text-anchor="middle"  stroke="#333" stroke-width="0.22">6</text>
<text x="260.95" y="839.20" font-size="7.3" fill="#333" text-anchor="middle"  stroke="#333" stroke-width="0.22">7</text>
<text x="283.70" y="839.20" font-size="7.3" fill="#333" text-anchor="middle"  stroke="#333" stroke-width="0.22">8</text>
<text x="230.6" y="851.7" font-size="8.9" fill="#222" stroke="#222" stroke-width="0.22" text-anchor="middle">−log(<tspan font-style="italic">P</tspan> value)</text>
<text x="384.40" y="670.00" font-size="12.4" fill="#000" text-anchor="start" font-weight="bold" stroke="#000" stroke-width="0.6">e</text>
<line x1="435.2" y1="699.16" x2="602.6" y2="699.16" stroke="#ebebeb" stroke-width="0.7"/>
<line x1="435.2" y1="717.94" x2="602.6" y2="717.94" stroke="#ebebeb" stroke-width="1.0"/>
<line x1="435.2" y1="736.72" x2="602.6" y2="736.72" stroke="#ebebeb" stroke-width="0.7"/>
<line x1="435.2" y1="755.50" x2="602.6" y2="755.50" stroke="#ebebeb" stroke-width="1.0"/>
<line x1="435.2" y1="774.28" x2="602.6" y2="774.28" stroke="#ebebeb" stroke-width="0.7"/>
<line x1="435.2" y1="793.06" x2="602.6" y2="793.06" stroke="#ebebeb" stroke-width="1.0"/>
<line x1="450.90" y1="689.3" x2="450.90" y2="801.5" stroke="#ebebeb" stroke-width="1"/>
<line x1="483.87" y1="689.3" x2="483.87" y2="801.5" stroke="#ebebeb" stroke-width="1"/>
<line x1="516.84" y1="689.3" x2="516.84" y2="801.5" stroke="#ebebeb" stroke-width="1"/>
<line x1="549.81" y1="689.3" x2="549.81" y2="801.5" stroke="#ebebeb" stroke-width="1"/>
<line x1="582.78" y1="689.3" x2="582.78" y2="801.5" stroke="#ebebeb" stroke-width="1"/>
<text x="431.40" y="720.74" font-size="8.1" fill="#333" text-anchor="end"  stroke="#333" stroke-width="0.22">0.2</text>
<text x="431.40" y="758.30" font-size="8.1" fill="#333" text-anchor="end"  stroke="#333" stroke-width="0.22">0</text>
<text x="431.40" y="795.86" font-size="8.1" fill="#333" text-anchor="end"  stroke="#333" stroke-width="0.22">−0.2</text>
<text transform="translate(410.6,744.6) rotate(-90)" font-size="8.8" fill="#222" stroke="#222" stroke-width="0.22" text-anchor="middle">ME2</text>
<text x="450.90" y="810.00" font-size="8.0" fill="#333" text-anchor="middle"  stroke="#333" stroke-width="0.22">1</text>
<text x="483.87" y="810.00" font-size="8.0" fill="#333" text-anchor="middle"  stroke="#333" stroke-width="0.22">2</text>
<text x="516.84" y="810.00" font-size="8.0" fill="#333" text-anchor="middle"  stroke="#333" stroke-width="0.22">3</text>
<text x="549.81" y="810.00" font-size="8.0" fill="#333" text-anchor="middle"  stroke="#333" stroke-width="0.22">4</text>
<text x="582.78" y="810.00" font-size="8.0" fill="#333" text-anchor="middle"  stroke="#333" stroke-width="0.22">5</text>
<text x="518.70" y="822.80" font-size="9.1" fill="#222" text-anchor="middle"  stroke="#222" stroke-width="0.22">Community</text>
<line x1="466.2" y1="673.5" x2="582.6" y2="673.5" stroke="#333" stroke-width="1"/>
<line x1="511.4" y1="680.5" x2="582.6" y2="680.5" stroke="#333" stroke-width="1"/>
<polygon points="520.80,667.60 521.36,668.93 522.80,669.05 521.70,669.99 522.03,671.40 520.80,670.65 519.57,671.40 519.90,669.99 518.80,669.05 520.24,668.93" fill="#222"/>
<polygon points="546.10,675.00 546.66,676.33 548.10,676.45 547.00,677.39 547.33,678.80 546.10,678.05 544.87,678.80 545.20,677.39 544.10,676.45 545.54,676.33" fill="#222"/>
<line x1="450.95" y1="719.1" x2="450.95" y2="738.3" stroke="#000" stroke-width="1.9"/>
<line x1="450.95" y1="773.5" x2="450.95" y2="778.2" stroke="#000" stroke-width="1.9"/>
<rect x="441.4" y="739.3" width="19.10" height="33.20" fill="#b48cff" stroke="#000" stroke-width="2.2"/>
<rect x="441.4" y="745.2" width="19.10" height="5.80" fill="#000"/>
<rect x="474.3" y="777.7" width="19.50" height="17.10" fill="#ff6e6e" stroke="#000" stroke-width="2.2"/>
<rect x="474.3" y="785.0" width="19.50" height="5.80" fill="#000"/>
<rect x="507.2" y="762.8" width="19.60" height="19.30" fill="#ff55f0" stroke="#000" stroke-width="2.2"/>
<rect x="507.2" y="777.5" width="19.60" height="5.60" fill="#000"/>
<line x1="550.10" y1="741.0" x2="550.10" y2="743.7" stroke="#000" stroke-width="1.9"/>
<line x1="550.10" y1="775.6" x2="550.10" y2="791.0" stroke="#000" stroke-width="1.9"/>
<rect x="540.4" y="744.7" width="19.40" height="29.90" fill="#1ec80f" stroke="#000" stroke-width="2.2"/>
<rect x="540.4" y="767.0" width="19.40" height="8.60" fill="#000"/>
<line x1="583.05" y1="694.6" x2="583.05" y2="723.7" stroke="#000" stroke-width="1.9"/>
<line x1="583.05" y1="762.9" x2="583.05" y2="773.4" stroke="#000" stroke-width="1.9"/>
<rect x="573.4" y="724.7" width="19.30" height="37.20" fill="#00c8ff" stroke="#000" stroke-width="2.2"/>
<rect x="573.4" y="746.4" width="19.30" height="6.00" fill="#000"/>
<ellipse cx="484" cy="748.8" rx="2.1" ry="2.4" fill="#000"/>
</svg>
</body></html>
